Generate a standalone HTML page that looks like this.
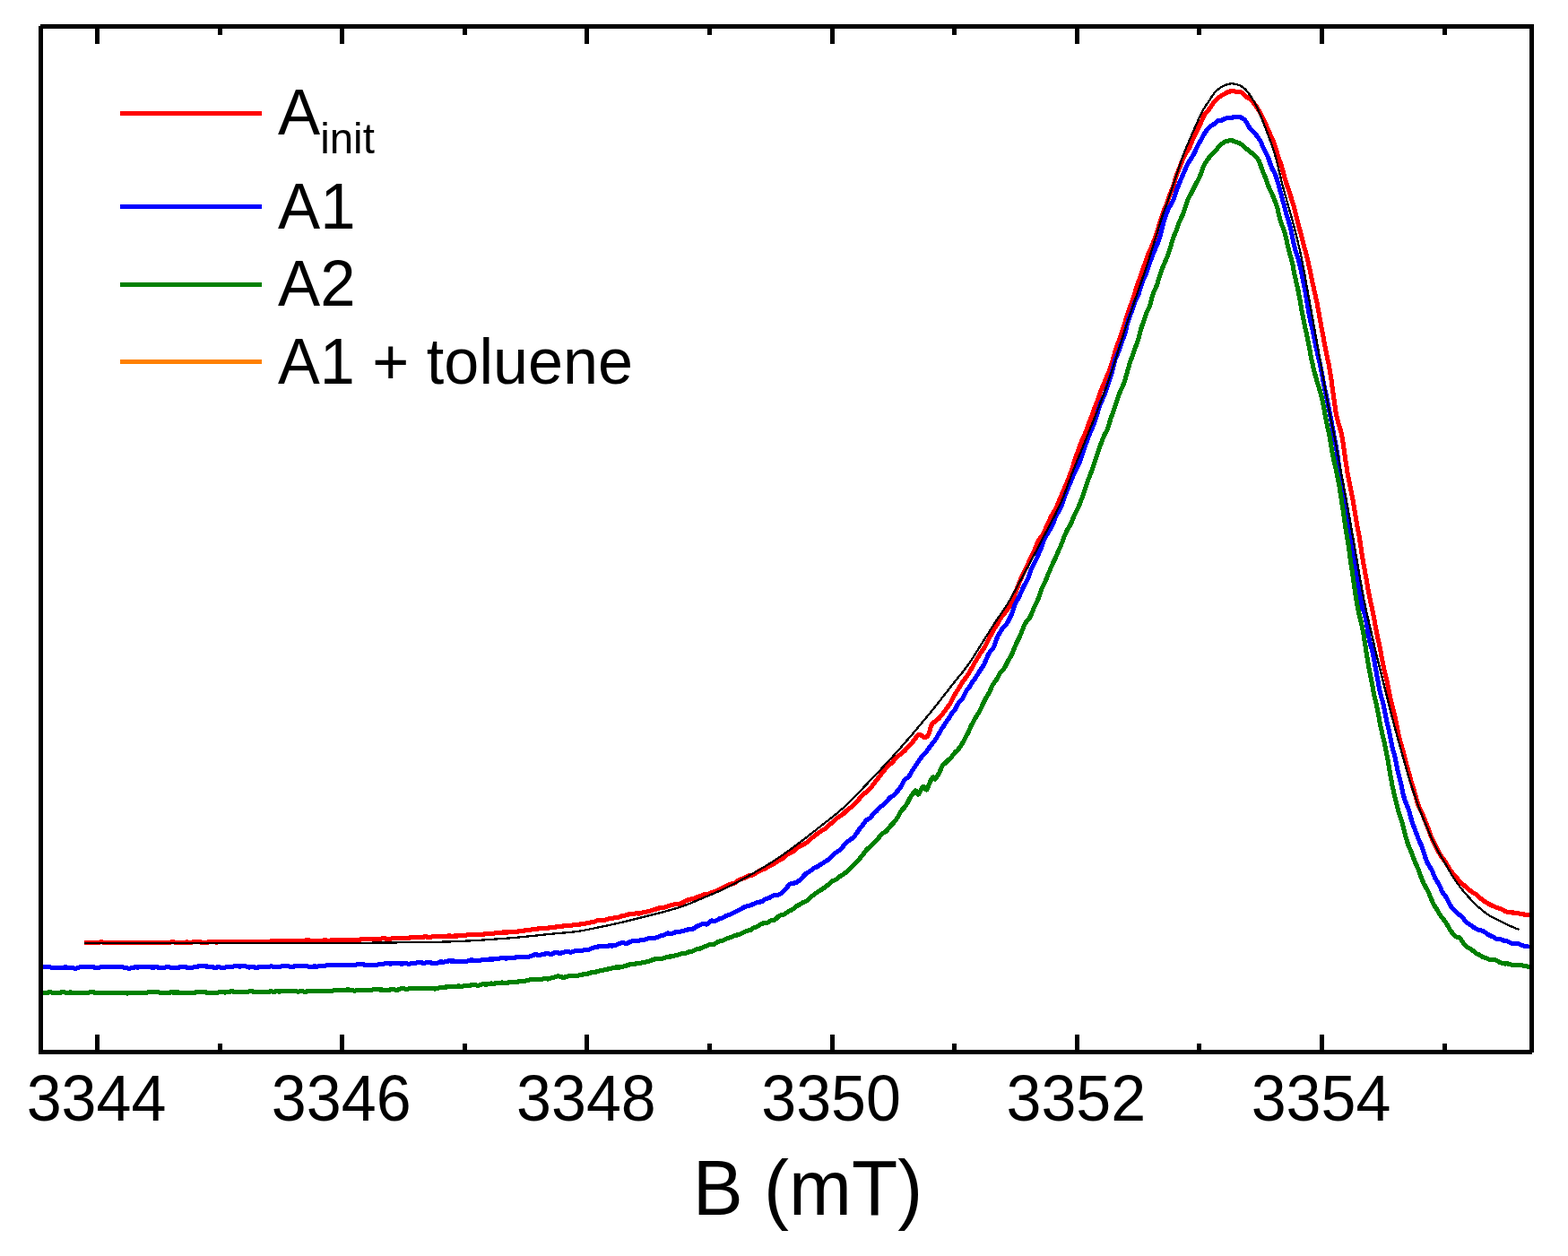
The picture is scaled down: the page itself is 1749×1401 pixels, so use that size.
<!DOCTYPE html>
<html lang="en">
<head>
<meta charset="utf-8">
<title>B (mT) spectrum</title>
<style>
html,body{margin:0;padding:0;background:#fff;}
body{width:1749px;height:1401px;overflow:hidden;}
svg{display:block;}
text{font-family:"Liberation Sans",Arial,Helvetica,sans-serif;fill:#000;}
.c{fill:none;stroke-linejoin:round;stroke-linecap:butt;}
</style>
</head>
<body>
<svg width="1749" height="1401" viewBox="0 0 1749 1401">
<rect width="1749" height="1401" fill="#fff"/>
<g shape-rendering="crispEdges">
<path class="c" stroke="#ff0000" stroke-width="5.1" d="M94.0 1051.7 L95.0 1051.7 L96.0 1051.6 L97.0 1051.5 L98.0 1051.5 L99.0 1051.6 L100.0 1051.7 L101.0 1051.8 L102.0 1051.8 L103.0 1051.8 L104.0 1051.8 L105.0 1051.8 L106.0 1051.7 L107.0 1051.7 L108.0 1051.6 L109.0 1051.4 L110.0 1051.3 L111.0 1051.1 L112.0 1050.9 L113.0 1050.9 L114.0 1050.9 L115.0 1051.1 L116.0 1051.2 L117.0 1051.3 L118.0 1051.3 L119.0 1051.3 L120.0 1051.2 L121.0 1051.2 L122.0 1051.2 L123.0 1051.2 L124.0 1051.2 L125.0 1051.2 L126.0 1051.3 L127.0 1051.4 L128.0 1051.5 L129.0 1051.6 L130.0 1051.7 L131.0 1051.7 L132.0 1051.7 L133.0 1051.6 L134.0 1051.6 L135.0 1051.6 L136.0 1051.6 L137.0 1051.6 L138.0 1051.6 L139.0 1051.7 L140.0 1051.7 L141.0 1051.8 L142.0 1051.9 L143.0 1051.9 L144.0 1051.9 L145.0 1051.8 L146.0 1051.7 L147.0 1051.7 L148.0 1051.8 L149.0 1051.8 L150.0 1051.9 L151.0 1051.9 L152.0 1051.8 L153.0 1051.7 L154.0 1051.6 L155.0 1051.4 L156.0 1051.3 L157.0 1051.3 L158.0 1051.4 L159.0 1051.5 L160.0 1051.5 L161.0 1051.5 L162.0 1051.4 L163.0 1051.3 L164.0 1051.2 L165.0 1051.2 L166.0 1051.3 L167.0 1051.5 L168.0 1051.6 L169.0 1051.6 L170.0 1051.6 L171.0 1051.6 L172.0 1051.6 L173.0 1051.6 L174.0 1051.5 L175.0 1051.5 L176.0 1051.4 L177.0 1051.3 L178.0 1051.3 L179.0 1051.3 L180.0 1051.3 L181.0 1051.5 L182.0 1051.6 L183.0 1051.7 L184.0 1051.7 L185.0 1051.7 L186.0 1051.6 L187.0 1051.6 L188.0 1051.5 L189.0 1051.3 L190.0 1051.1 L191.0 1050.9 L192.0 1050.7 L193.0 1050.7 L194.0 1050.8 L195.0 1051.1 L196.0 1051.3 L197.0 1051.4 L198.0 1051.4 L199.0 1051.4 L200.0 1051.3 L201.0 1051.3 L202.0 1051.4 L203.0 1051.4 L204.0 1051.3 L205.0 1051.3 L206.0 1051.2 L207.0 1051.1 L208.0 1051.0 L209.0 1051.0 L210.0 1051.1 L211.0 1051.2 L212.0 1051.2 L213.0 1051.2 L214.0 1051.1 L215.0 1050.9 L216.0 1050.7 L217.0 1050.6 L218.0 1050.5 L219.0 1050.6 L220.0 1050.6 L221.0 1050.7 L222.0 1050.8 L223.0 1050.9 L224.0 1051.0 L225.0 1051.1 L226.0 1051.1 L227.0 1051.2 L228.0 1051.3 L229.0 1051.3 L230.0 1051.2 L231.0 1051.1 L232.0 1051.0 L233.0 1050.9 L234.0 1050.9 L235.0 1050.8 L236.0 1050.8 L237.0 1050.7 L238.0 1050.7 L239.0 1050.8 L240.0 1050.9 L241.0 1051.0 L242.0 1051.0 L243.0 1050.9 L244.0 1050.8 L245.0 1050.7 L246.0 1050.7 L247.0 1050.6 L248.0 1050.6 L249.0 1050.5 L250.0 1050.6 L251.0 1050.6 L252.0 1050.7 L253.0 1050.7 L254.0 1050.7 L255.0 1050.7 L256.0 1050.7 L257.0 1050.6 L258.0 1050.5 L259.0 1050.4 L260.0 1050.4 L261.0 1050.5 L262.0 1050.6 L263.0 1050.6 L264.0 1050.6 L265.0 1050.5 L266.0 1050.4 L267.0 1050.4 L268.0 1050.4 L269.0 1050.4 L270.0 1050.5 L271.0 1050.6 L272.0 1050.6 L273.0 1050.5 L274.0 1050.5 L275.0 1050.5 L276.0 1050.5 L277.0 1050.6 L278.0 1050.7 L279.0 1050.7 L280.0 1050.8 L281.0 1050.7 L282.0 1050.6 L283.0 1050.5 L284.0 1050.5 L285.0 1050.6 L286.0 1050.7 L287.0 1050.8 L288.0 1050.8 L289.0 1050.8 L290.0 1050.8 L291.0 1050.8 L292.0 1050.7 L293.0 1050.6 L294.0 1050.6 L295.0 1050.7 L296.0 1050.8 L297.0 1050.9 L298.0 1050.8 L299.0 1050.6 L300.0 1050.3 L301.0 1050.1 L302.0 1050.0 L303.0 1049.9 L304.0 1049.9 L305.0 1049.8 L306.0 1049.7 L307.0 1049.7 L308.0 1049.7 L309.0 1049.8 L310.0 1049.8 L311.0 1049.7 L312.0 1049.6 L313.0 1049.5 L314.0 1049.4 L315.0 1049.5 L316.0 1049.6 L317.0 1049.7 L318.0 1049.7 L319.0 1049.7 L320.0 1049.6 L321.0 1049.5 L322.0 1049.5 L323.0 1049.5 L324.0 1049.6 L325.0 1049.8 L326.0 1049.9 L327.0 1050.0 L328.0 1050.0 L329.0 1050.0 L330.0 1049.8 L331.0 1049.7 L332.0 1049.6 L333.0 1049.5 L334.0 1049.5 L335.0 1049.6 L336.0 1049.7 L337.0 1049.7 L338.0 1049.6 L339.0 1049.5 L340.0 1049.2 L341.0 1048.9 L342.0 1048.6 L343.0 1048.5 L344.0 1048.6 L345.0 1048.8 L346.0 1049.1 L347.0 1049.2 L348.0 1049.3 L349.0 1049.3 L350.0 1049.4 L351.0 1049.5 L352.0 1049.5 L353.0 1049.5 L354.0 1049.5 L355.0 1049.5 L356.0 1049.4 L357.0 1049.3 L358.0 1049.2 L359.0 1049.2 L360.0 1049.1 L361.0 1049.0 L362.0 1049.0 L363.0 1049.0 L364.0 1049.0 L365.0 1049.2 L366.0 1049.3 L367.0 1049.3 L368.0 1049.2 L369.0 1049.0 L370.0 1048.8 L371.0 1048.7 L372.0 1048.6 L373.0 1048.6 L374.0 1048.6 L375.0 1048.6 L376.0 1048.7 L377.0 1048.8 L378.0 1048.9 L379.0 1049.0 L380.0 1048.9 L381.0 1048.8 L382.0 1048.7 L383.0 1048.6 L384.0 1048.6 L385.0 1048.8 L386.0 1048.9 L387.0 1048.9 L388.0 1048.8 L389.0 1048.7 L390.0 1048.6 L391.0 1048.5 L392.0 1048.5 L393.0 1048.5 L394.0 1048.5 L395.0 1048.5 L396.0 1048.4 L397.0 1048.3 L398.0 1048.3 L399.0 1048.3 L400.0 1048.2 L401.0 1048.1 L402.0 1048.0 L403.0 1047.9 L404.0 1047.8 L405.0 1047.8 L406.0 1047.8 L407.0 1047.7 L408.0 1047.6 L409.0 1047.5 L410.0 1047.4 L411.0 1047.4 L412.0 1047.5 L413.0 1047.6 L414.0 1047.7 L415.0 1047.7 L416.0 1047.7 L417.0 1047.6 L418.0 1047.5 L419.0 1047.4 L420.0 1047.4 L421.0 1047.4 L422.0 1047.5 L423.0 1047.5 L424.0 1047.4 L425.0 1047.2 L426.0 1047.0 L427.0 1046.8 L428.0 1046.8 L429.0 1046.9 L430.0 1047.0 L431.0 1047.2 L432.0 1047.4 L433.0 1047.5 L434.0 1047.5 L435.0 1047.4 L436.0 1047.2 L437.0 1047.0 L438.0 1046.8 L439.0 1046.7 L440.0 1046.7 L441.0 1046.7 L442.0 1046.6 L443.0 1046.5 L444.0 1046.4 L445.0 1046.3 L446.0 1046.3 L447.0 1046.3 L448.0 1046.4 L449.0 1046.3 L450.0 1046.3 L451.0 1046.3 L452.0 1046.4 L453.0 1046.4 L454.0 1046.5 L455.0 1046.4 L456.0 1046.3 L457.0 1046.0 L458.0 1045.7 L459.0 1045.5 L460.0 1045.4 L461.0 1045.4 L462.0 1045.5 L463.0 1045.5 L464.0 1045.5 L465.0 1045.4 L466.0 1045.4 L467.0 1045.6 L468.0 1045.7 L469.0 1045.7 L470.0 1045.6 L471.0 1045.3 L472.0 1045.1 L473.0 1045.0 L474.0 1044.9 L475.0 1044.9 L476.0 1045.0 L477.0 1045.2 L478.0 1045.3 L479.0 1045.4 L480.0 1045.4 L481.0 1045.2 L482.0 1045.0 L483.0 1044.8 L484.0 1044.6 L485.0 1044.4 L486.0 1044.4 L487.0 1044.4 L488.0 1044.5 L489.0 1044.5 L490.0 1044.5 L491.0 1044.4 L492.0 1044.3 L493.0 1044.3 L494.0 1044.3 L495.0 1044.3 L496.0 1044.4 L497.0 1044.3 L498.0 1044.2 L499.0 1044.1 L500.0 1044.0 L501.0 1044.0 L502.0 1044.0 L503.0 1044.1 L504.0 1044.2 L505.0 1044.2 L506.0 1044.1 L507.0 1044.0 L508.0 1044.0 L509.0 1044.0 L510.0 1044.0 L511.0 1044.0 L512.0 1043.8 L513.0 1043.6 L514.0 1043.4 L515.0 1043.2 L516.0 1043.2 L517.0 1043.2 L518.0 1043.2 L519.0 1043.2 L520.0 1043.1 L521.0 1042.9 L522.0 1042.8 L523.0 1042.7 L524.0 1042.6 L525.0 1042.5 L526.0 1042.4 L527.0 1042.3 L528.0 1042.2 L529.0 1042.2 L530.0 1042.3 L531.0 1042.2 L532.0 1042.2 L533.0 1042.1 L534.0 1042.1 L535.0 1042.2 L536.0 1042.2 L537.0 1042.3 L538.0 1042.2 L539.0 1042.2 L540.0 1042.0 L541.0 1041.9 L542.0 1041.9 L543.0 1041.8 L544.0 1041.8 L545.0 1041.7 L546.0 1041.6 L547.0 1041.5 L548.0 1041.4 L549.0 1041.4 L550.0 1041.3 L551.0 1041.1 L552.0 1040.9 L553.0 1040.7 L554.0 1040.6 L555.0 1040.5 L556.0 1040.5 L557.0 1040.4 L558.0 1040.4 L559.0 1040.2 L560.0 1040.1 L561.0 1040.0 L562.0 1040.0 L563.0 1040.0 L564.0 1040.0 L565.0 1040.0 L566.0 1040.0 L567.0 1039.8 L568.0 1039.7 L569.0 1039.5 L570.0 1039.4 L571.0 1039.5 L572.0 1039.5 L573.0 1039.6 L574.0 1039.6 L575.0 1039.5 L576.0 1039.4 L577.0 1039.3 L578.0 1039.0 L579.0 1038.7 L580.0 1038.4 L581.0 1038.2 L582.0 1038.2 L583.0 1038.2 L584.0 1038.1 L585.0 1038.0 L586.0 1037.8 L587.0 1037.7 L588.0 1037.5 L589.0 1037.4 L590.0 1037.3 L591.0 1037.2 L592.0 1037.1 L593.0 1036.9 L594.0 1036.8 L595.0 1036.7 L596.0 1036.7 L597.0 1036.7 L598.0 1036.6 L599.0 1036.3 L600.0 1036.0 L601.0 1035.8 L602.0 1035.7 L603.0 1035.7 L604.0 1035.6 L605.0 1035.6 L606.0 1035.5 L607.0 1035.6 L608.0 1035.7 L609.0 1035.7 L610.0 1035.6 L611.0 1035.3 L612.0 1035.0 L613.0 1034.7 L614.0 1034.4 L615.0 1034.3 L616.0 1034.2 L617.0 1034.2 L618.0 1034.2 L619.0 1034.1 L620.0 1034.0 L621.0 1033.8 L622.0 1033.6 L623.0 1033.5 L624.0 1033.4 L625.0 1033.3 L626.0 1033.2 L627.0 1033.1 L628.0 1033.0 L629.0 1032.8 L630.0 1032.6 L631.0 1032.5 L632.0 1032.4 L633.0 1032.4 L634.0 1032.4 L635.0 1032.4 L636.0 1032.3 L637.0 1032.2 L638.0 1032.1 L639.0 1031.9 L640.0 1031.8 L641.0 1031.7 L642.0 1031.6 L643.0 1031.5 L644.0 1031.4 L645.0 1031.3 L646.0 1031.2 L647.0 1031.0 L648.0 1030.8 L649.0 1030.7 L650.0 1030.5 L651.0 1030.4 L652.0 1030.3 L653.0 1030.1 L654.0 1029.9 L655.0 1029.7 L656.0 1029.5 L657.0 1029.3 L658.0 1029.1 L659.0 1028.9 L660.0 1028.8 L661.0 1028.7 L662.0 1028.5 L663.0 1028.1 L664.0 1027.7 L665.0 1027.3 L666.0 1026.9 L667.0 1026.6 L668.0 1026.3 L669.0 1026.1 L670.0 1026.1 L671.0 1026.1 L672.0 1026.2 L673.0 1026.3 L674.0 1026.3 L675.0 1026.2 L676.0 1025.9 L677.0 1025.5 L678.0 1025.1 L679.0 1024.7 L680.0 1024.5 L681.0 1024.5 L682.0 1024.4 L683.0 1024.3 L684.0 1024.1 L685.0 1023.9 L686.0 1023.8 L687.0 1023.7 L688.0 1023.6 L689.0 1023.4 L690.0 1023.1 L691.0 1022.7 L692.0 1022.3 L693.0 1022.0 L694.0 1021.7 L695.0 1021.5 L696.0 1021.4 L697.0 1021.1 L698.0 1020.8 L699.0 1020.5 L700.0 1020.2 L701.0 1020.0 L702.0 1019.9 L703.0 1019.9 L704.0 1019.9 L705.0 1019.8 L706.0 1019.6 L707.0 1019.4 L708.0 1019.1 L709.0 1018.9 L710.0 1018.8 L711.0 1018.9 L712.0 1019.0 L713.0 1019.0 L714.0 1018.8 L715.0 1018.5 L716.0 1018.1 L717.0 1017.8 L718.0 1017.6 L719.0 1017.4 L720.0 1017.3 L721.0 1017.1 L722.0 1016.9 L723.0 1016.6 L724.0 1016.4 L725.0 1016.1 L726.0 1015.8 L727.0 1015.5 L728.0 1015.2 L729.0 1014.9 L730.0 1014.6 L731.0 1014.4 L732.0 1014.0 L733.0 1013.6 L734.0 1013.3 L735.0 1013.0 L736.0 1012.8 L737.0 1012.7 L738.0 1012.6 L739.0 1012.5 L740.0 1012.4 L741.0 1012.1 L742.0 1011.8 L743.0 1011.5 L744.0 1011.1 L745.0 1010.7 L746.0 1010.4 L747.0 1010.1 L748.0 1009.9 L749.0 1009.7 L750.0 1009.4 L751.0 1009.2 L752.0 1008.9 L753.0 1008.7 L754.0 1008.5 L755.0 1008.4 L756.0 1008.3 L757.0 1008.3 L758.0 1008.2 L759.0 1007.9 L760.0 1007.5 L761.0 1007.0 L762.0 1006.5 L763.0 1005.9 L764.0 1005.4 L765.0 1004.9 L766.0 1004.5 L767.0 1004.0 L768.0 1003.6 L769.0 1003.3 L770.0 1003.1 L771.0 1002.9 L772.0 1002.7 L773.0 1002.5 L774.0 1002.2 L775.0 1001.8 L776.0 1001.3 L777.0 1000.9 L778.0 1000.5 L779.0 1000.2 L780.0 999.9 L781.0 999.5 L782.0 999.1 L783.0 998.7 L784.0 998.3 L785.0 997.9 L786.0 997.6 L787.0 997.4 L788.0 997.3 L789.0 997.3 L790.0 997.1 L791.0 996.8 L792.0 996.4 L793.0 996.0 L794.0 995.5 L795.0 995.1 L796.0 994.7 L797.0 994.4 L798.0 994.1 L799.0 993.8 L800.0 993.5 L801.0 993.1 L802.0 992.5 L803.0 991.9 L804.0 991.3 L805.0 990.8 L806.0 990.4 L807.0 990.0 L808.0 989.5 L809.0 989.0 L810.0 988.4 L811.0 987.9 L812.0 987.5 L813.0 987.0 L814.0 986.6 L815.0 986.2 L816.0 986.0 L817.0 985.8 L818.0 985.7 L819.0 985.4 L820.0 984.8 L821.0 984.0 L822.0 983.1 L823.0 982.4 L824.0 981.8 L825.0 981.4 L826.0 980.9 L827.0 980.5 L828.0 980.1 L829.0 979.7 L830.0 979.4 L831.0 979.0 L832.0 978.5 L833.0 977.9 L834.0 977.4 L835.0 977.0 L836.0 976.7 L837.0 976.7 L838.0 976.6 L839.0 976.4 L840.0 975.9 L841.0 975.3 L842.0 974.6 L843.0 973.9 L844.0 973.3 L845.0 972.6 L846.0 972.0 L847.0 971.5 L848.0 970.9 L849.0 970.5 L850.0 970.1 L851.0 969.8 L852.0 969.4 L853.0 969.0 L854.0 968.5 L855.0 967.9 L856.0 967.3 L857.0 966.7 L858.0 966.3 L859.0 965.8 L860.0 965.4 L861.0 964.9 L862.0 964.3 L863.0 963.6 L864.0 962.9 L865.0 962.2 L866.0 961.5 L867.0 960.8 L868.0 960.2 L869.0 959.7 L870.0 959.3 L871.0 958.8 L872.0 958.2 L873.0 957.5 L874.0 956.7 L875.0 955.9 L876.0 955.1 L877.0 954.2 L878.0 953.4 L879.0 952.5 L880.0 951.9 L881.0 951.4 L882.0 951.0 L883.0 950.6 L884.0 950.2 L885.0 949.5 L886.0 948.6 L887.0 947.6 L888.0 946.7 L889.0 945.9 L890.0 945.3 L891.0 944.6 L892.0 944.0 L893.0 943.5 L894.0 943.0 L895.0 942.5 L896.0 942.0 L897.0 941.5 L898.0 940.9 L899.0 940.3 L900.0 939.6 L901.0 938.8 L902.0 937.8 L903.0 936.9 L904.0 936.0 L905.0 935.1 L906.0 934.4 L907.0 933.8 L908.0 933.1 L909.0 932.3 L910.0 931.4 L911.0 930.5 L912.0 929.6 L913.0 928.9 L914.0 928.2 L915.0 927.6 L916.0 927.0 L917.0 926.3 L918.0 925.7 L919.0 925.2 L920.0 924.6 L921.0 924.0 L922.0 923.2 L923.0 922.2 L924.0 921.2 L925.0 920.2 L926.0 919.4 L927.0 918.5 L928.0 917.6 L929.0 916.7 L930.0 915.8 L931.0 914.8 L932.0 913.9 L933.0 913.0 L934.0 912.3 L935.0 911.7 L936.0 911.0 L937.0 910.3 L938.0 909.6 L939.0 908.9 L940.0 908.2 L941.0 907.5 L942.0 906.6 L943.0 905.6 L944.0 904.5 L945.0 903.6 L946.0 902.7 L947.0 902.0 L948.0 901.3 L949.0 900.6 L950.0 899.7 L951.0 898.7 L952.0 897.7 L953.0 896.8 L954.0 896.0 L955.0 895.1 L956.0 894.0 L957.0 892.9 L958.0 891.7 L959.0 890.5 L960.0 889.3 L961.0 888.1 L962.0 887.0 L963.0 886.0 L964.0 885.2 L965.0 884.5 L966.0 883.6 L967.0 882.7 L968.0 881.7 L969.0 880.7 L970.0 879.8 L971.0 878.9 L972.0 877.8 L973.0 876.5 L974.0 875.2 L975.0 873.9 L976.0 872.5 L977.0 871.2 L978.0 870.0 L979.0 868.7 L980.0 867.4 L981.0 866.1 L982.0 864.8 L983.0 863.4 L984.0 862.1 L985.0 860.9 L986.0 859.7 L987.0 858.5 L988.0 857.3 L989.0 856.1 L990.0 854.9 L991.0 853.8 L992.0 852.9 L993.0 852.2 L994.0 851.5 L995.0 850.7 L996.0 849.7 L997.0 848.5 L998.0 847.2 L999.0 846.1 L1000.0 845.0 L1001.0 844.1 L1002.0 843.2 L1003.0 842.4 L1004.0 841.6 L1005.0 840.9 L1006.0 840.1 L1007.0 839.2 L1008.0 838.4 L1009.0 837.5 L1010.0 836.4 L1011.0 835.3 L1012.0 834.0 L1013.0 832.9 L1014.0 831.9 L1015.0 831.0 L1016.0 830.0 L1017.0 828.8 L1018.0 827.6 L1019.0 826.4 L1020.0 825.2 L1021.0 823.9 L1022.0 822.1 L1023.0 820.9 L1024.0 820.1 L1025.0 819.4 L1026.0 819.2 L1027.0 819.7 L1028.0 820.4 L1029.0 821.4 L1030.0 822.1 L1031.0 822.2 L1032.0 822.2 L1033.0 822.0 L1034.0 821.6 L1035.0 820.6 L1036.0 818.6 L1037.0 815.3 L1038.0 811.9 L1039.0 808.9 L1040.0 807.3 L1041.0 806.3 L1042.0 805.5 L1043.0 804.7 L1044.0 803.9 L1045.0 803.1 L1046.0 802.3 L1047.0 801.5 L1048.0 800.5 L1049.0 799.3 L1050.0 798.1 L1051.0 796.8 L1052.0 795.5 L1053.0 794.3 L1054.0 793.0 L1055.0 791.5 L1056.0 790.0 L1057.0 788.6 L1058.0 787.3 L1059.0 785.9 L1060.0 784.4 L1061.0 782.6 L1062.0 780.7 L1063.0 778.7 L1064.0 776.8 L1065.0 774.9 L1066.0 773.1 L1067.0 771.4 L1068.0 769.9 L1069.0 768.5 L1070.0 766.9 L1071.0 765.2 L1072.0 763.5 L1073.0 761.8 L1074.0 760.2 L1075.0 758.8 L1076.0 757.6 L1077.0 756.5 L1078.0 755.2 L1079.0 753.7 L1080.0 752.1 L1081.0 750.4 L1082.0 748.7 L1083.0 747.0 L1084.0 745.2 L1085.0 743.4 L1086.0 741.5 L1087.0 739.7 L1088.0 738.0 L1089.0 736.4 L1090.0 734.7 L1091.0 733.1 L1092.0 731.4 L1093.0 729.7 L1094.0 728.1 L1095.0 726.7 L1096.0 725.3 L1097.0 723.9 L1098.0 722.3 L1099.0 720.5 L1100.0 718.6 L1101.0 716.5 L1102.0 714.6 L1103.0 712.7 L1104.0 710.8 L1105.0 708.9 L1106.0 706.9 L1107.0 705.0 L1108.0 703.2 L1109.0 701.6 L1110.0 700.1 L1111.0 698.6 L1112.0 697.1 L1113.0 695.5 L1114.0 693.6 L1115.0 691.7 L1116.0 689.9 L1117.0 688.3 L1118.0 687.0 L1119.0 685.9 L1120.0 684.8 L1121.0 683.6 L1122.0 682.2 L1123.0 680.7 L1124.0 679.2 L1125.0 677.7 L1126.0 676.2 L1127.0 674.6 L1128.0 672.6 L1129.0 670.2 L1130.0 667.6 L1131.0 665.0 L1132.0 662.5 L1133.0 660.1 L1134.0 657.7 L1135.0 655.1 L1136.0 652.4 L1137.0 649.8 L1138.0 647.3 L1139.0 645.0 L1140.0 642.6 L1141.0 640.4 L1142.0 638.3 L1143.0 636.5 L1144.0 634.8 L1145.0 632.9 L1146.0 630.7 L1147.0 628.3 L1148.0 625.8 L1149.0 623.6 L1150.0 621.6 L1151.0 619.6 L1152.0 617.7 L1153.0 615.6 L1154.0 613.4 L1155.0 610.9 L1156.0 608.4 L1157.0 606.0 L1158.0 603.9 L1159.0 602.2 L1160.0 600.7 L1161.0 599.4 L1162.0 598.0 L1163.0 596.4 L1164.0 594.5 L1165.0 592.4 L1166.0 590.2 L1167.0 588.0 L1168.0 585.7 L1169.0 583.5 L1170.0 581.3 L1171.0 579.3 L1172.0 577.2 L1173.0 575.2 L1174.0 573.4 L1175.0 571.7 L1176.0 570.0 L1177.0 568.3 L1178.0 566.4 L1179.0 564.2 L1180.0 561.8 L1181.0 559.4 L1182.0 557.1 L1183.0 554.8 L1184.0 552.5 L1185.0 550.1 L1186.0 547.7 L1187.0 545.3 L1188.0 542.9 L1189.0 540.7 L1190.0 538.4 L1191.0 536.0 L1192.0 533.4 L1193.0 530.7 L1194.0 528.0 L1195.0 525.2 L1196.0 522.3 L1197.0 519.1 L1198.0 515.9 L1199.0 512.7 L1200.0 509.9 L1201.0 507.1 L1202.0 504.3 L1203.0 501.5 L1204.0 498.7 L1205.0 495.9 L1206.0 493.4 L1207.0 491.1 L1208.0 488.9 L1209.0 486.8 L1210.0 484.4 L1211.0 481.9 L1212.0 479.2 L1213.0 476.5 L1214.0 473.7 L1215.0 471.1 L1216.0 468.6 L1217.0 466.0 L1218.0 463.4 L1219.0 460.6 L1220.0 457.8 L1221.0 455.1 L1222.0 452.5 L1223.0 449.9 L1224.0 447.3 L1225.0 444.4 L1226.0 441.3 L1227.0 438.3 L1228.0 435.6 L1229.0 433.2 L1230.0 431.1 L1231.0 428.9 L1232.0 426.5 L1233.0 423.9 L1234.0 421.4 L1235.0 419.0 L1236.0 416.6 L1237.0 414.3 L1238.0 411.8 L1239.0 409.1 L1240.0 406.0 L1241.0 402.5 L1242.0 398.9 L1243.0 395.3 L1244.0 391.8 L1245.0 388.5 L1246.0 385.5 L1247.0 382.7 L1248.0 380.2 L1249.0 377.6 L1250.0 374.8 L1251.0 371.8 L1252.0 368.7 L1253.0 365.7 L1254.0 362.6 L1255.0 359.4 L1256.0 356.0 L1257.0 352.6 L1258.0 349.4 L1259.0 346.5 L1260.0 343.8 L1261.0 341.1 L1262.0 338.2 L1263.0 335.4 L1264.0 332.5 L1265.0 329.4 L1266.0 326.2 L1267.0 322.9 L1268.0 319.8 L1269.0 316.9 L1270.0 314.1 L1271.0 311.3 L1272.0 308.5 L1273.0 305.7 L1274.0 302.9 L1275.0 300.0 L1276.0 297.1 L1277.0 294.2 L1278.0 291.1 L1279.0 288.2 L1280.0 285.4 L1281.0 282.9 L1282.0 280.6 L1283.0 278.4 L1284.0 276.2 L1285.0 273.8 L1286.0 271.4 L1287.0 269.0 L1288.0 266.5 L1289.0 263.7 L1290.0 260.7 L1291.0 257.5 L1292.0 254.2 L1293.0 250.9 L1294.0 247.7 L1295.0 244.5 L1296.0 241.4 L1297.0 238.4 L1298.0 235.6 L1299.0 233.1 L1300.0 230.8 L1301.0 228.4 L1302.0 225.8 L1303.0 222.9 L1304.0 219.9 L1305.0 217.1 L1306.0 214.5 L1307.0 212.1 L1308.0 209.5 L1309.0 206.6 L1310.0 203.3 L1311.0 199.9 L1312.0 196.6 L1313.0 193.8 L1314.0 191.2 L1315.0 188.8 L1316.0 186.3 L1317.0 183.7 L1318.0 181.1 L1319.0 178.6 L1320.0 176.2 L1321.0 174.0 L1322.0 172.1 L1323.0 170.5 L1324.0 169.1 L1325.0 167.6 L1326.0 166.0 L1327.0 164.0 L1328.0 161.6 L1329.0 159.1 L1330.0 156.6 L1331.0 154.2 L1332.0 152.1 L1333.0 150.1 L1334.0 148.1 L1335.0 146.1 L1336.0 144.1 L1337.0 142.1 L1338.0 140.1 L1339.0 138.0 L1340.0 135.7 L1341.0 133.4 L1342.0 131.0 L1343.0 128.9 L1344.0 127.2 L1345.0 125.9 L1346.0 124.8 L1347.0 123.8 L1348.0 122.6 L1349.0 121.3 L1350.0 120.0 L1351.0 118.5 L1352.0 117.0 L1353.0 115.5 L1354.0 114.2 L1355.0 113.0 L1356.0 111.9 L1357.0 110.9 L1358.0 109.9 L1359.0 109.0 L1360.0 108.3 L1361.0 107.6 L1362.0 107.0 L1363.0 106.4 L1364.0 105.9 L1365.0 105.3 L1366.0 104.7 L1367.0 104.0 L1368.0 103.4 L1369.0 103.0 L1370.0 102.6 L1371.0 102.3 L1372.0 102.0 L1373.0 101.7 L1374.0 101.5 L1375.0 101.5 L1376.0 101.6 L1377.0 101.8 L1378.0 102.1 L1379.0 102.3 L1380.0 102.5 L1381.0 102.5 L1382.0 102.5 L1383.0 102.6 L1384.0 102.9 L1385.0 103.4 L1386.0 104.2 L1387.0 105.1 L1388.0 106.1 L1389.0 107.0 L1390.0 107.8 L1391.0 108.5 L1392.0 109.1 L1393.0 109.7 L1394.0 110.4 L1395.0 111.3 L1396.0 112.3 L1397.0 113.3 L1398.0 114.4 L1399.0 115.5 L1400.0 116.7 L1401.0 118.1 L1402.0 119.7 L1403.0 121.3 L1404.0 123.0 L1405.0 124.7 L1406.0 126.5 L1407.0 128.5 L1408.0 130.6 L1409.0 132.7 L1410.0 134.7 L1411.0 136.8 L1412.0 139.1 L1413.0 141.5 L1414.0 143.9 L1415.0 146.0 L1416.0 148.1 L1417.0 150.2 L1418.0 152.5 L1419.0 154.8 L1420.0 157.0 L1421.0 159.3 L1422.0 162.1 L1423.0 165.4 L1424.0 168.8 L1425.0 172.2 L1426.0 175.2 L1427.0 178.1 L1428.0 181.0 L1429.0 184.0 L1430.0 187.4 L1431.0 191.0 L1432.0 194.8 L1433.0 198.5 L1434.0 201.9 L1435.0 204.9 L1436.0 207.9 L1437.0 210.8 L1438.0 213.8 L1439.0 216.8 L1440.0 219.9 L1441.0 223.1 L1442.0 226.3 L1443.0 229.7 L1444.0 233.4 L1445.0 237.4 L1446.0 241.7 L1447.0 245.9 L1448.0 249.7 L1449.0 253.3 L1450.0 256.9 L1451.0 260.7 L1452.0 264.7 L1453.0 268.7 L1454.0 272.5 L1455.0 276.0 L1456.0 279.6 L1457.0 283.5 L1458.0 287.6 L1459.0 291.9 L1460.0 296.3 L1461.0 300.9 L1462.0 305.7 L1463.0 310.5 L1464.0 315.2 L1465.0 319.7 L1466.0 324.0 L1467.0 328.5 L1468.0 333.1 L1469.0 337.9 L1470.0 343.0 L1471.0 348.3 L1472.0 354.0 L1473.0 359.8 L1474.0 365.3 L1475.0 370.6 L1476.0 375.8 L1477.0 381.0 L1478.0 386.3 L1479.0 391.4 L1480.0 396.3 L1481.0 401.0 L1482.0 405.8 L1483.0 411.1 L1484.0 417.0 L1485.0 423.8 L1486.0 431.1 L1487.0 438.7 L1488.0 445.9 L1489.0 452.8 L1490.0 459.2 L1491.0 464.6 L1492.0 468.9 L1493.0 472.4 L1494.0 475.6 L1495.0 478.9 L1496.0 482.9 L1497.0 487.8 L1498.0 493.6 L1499.0 500.1 L1500.0 507.0 L1501.0 514.0 L1502.0 520.8 L1503.0 527.0 L1504.0 532.4 L1505.0 537.4 L1506.0 542.4 L1507.0 547.4 L1508.0 552.6 L1509.0 557.9 L1510.0 563.5 L1511.0 569.5 L1512.0 575.7 L1513.0 581.7 L1514.0 587.2 L1515.0 592.4 L1516.0 597.8 L1517.0 603.9 L1518.0 610.5 L1519.0 617.4 L1520.0 623.8 L1521.0 629.6 L1522.0 634.9 L1523.0 640.3 L1524.0 645.9 L1525.0 651.7 L1526.0 657.3 L1527.0 662.6 L1528.0 667.5 L1529.0 672.0 L1530.0 676.6 L1531.0 681.3 L1532.0 686.4 L1533.0 691.7 L1534.0 697.1 L1535.0 702.4 L1536.0 707.4 L1537.0 712.1 L1538.0 716.7 L1539.0 721.6 L1540.0 726.9 L1541.0 732.4 L1542.0 737.8 L1543.0 742.7 L1544.0 747.2 L1545.0 751.4 L1546.0 755.5 L1547.0 759.8 L1548.0 764.4 L1549.0 769.3 L1550.0 774.4 L1551.0 779.1 L1552.0 783.5 L1553.0 787.5 L1554.0 791.5 L1555.0 795.6 L1556.0 799.9 L1557.0 804.7 L1558.0 809.7 L1559.0 814.7 L1560.0 819.6 L1561.0 823.9 L1562.0 827.7 L1563.0 831.0 L1564.0 834.1 L1565.0 837.5 L1566.0 841.4 L1567.0 845.4 L1568.0 849.5 L1569.0 853.2 L1570.0 856.8 L1571.0 860.2 L1572.0 863.7 L1573.0 867.4 L1574.0 871.1 L1575.0 874.6 L1576.0 877.9 L1577.0 881.0 L1578.0 884.3 L1579.0 887.8 L1580.0 891.4 L1581.0 895.0 L1582.0 898.0 L1583.0 900.5 L1584.0 902.6 L1585.0 904.5 L1586.0 906.5 L1587.0 908.7 L1588.0 911.2 L1589.0 913.9 L1590.0 916.6 L1591.0 919.1 L1592.0 921.6 L1593.0 924.1 L1594.0 926.8 L1595.0 929.5 L1596.0 932.2 L1597.0 934.7 L1598.0 936.9 L1599.0 939.0 L1600.0 940.9 L1601.0 942.9 L1602.0 944.9 L1603.0 946.9 L1604.0 948.9 L1605.0 950.8 L1606.0 952.7 L1607.0 954.3 L1608.0 955.8 L1609.0 957.1 L1610.0 958.3 L1611.0 959.6 L1612.0 961.1 L1613.0 962.6 L1614.0 964.3 L1615.0 966.0 L1616.0 967.7 L1617.0 969.4 L1618.0 971.0 L1619.0 972.4 L1620.0 973.6 L1621.0 974.7 L1622.0 975.7 L1623.0 976.8 L1624.0 978.0 L1625.0 979.2 L1626.0 980.5 L1627.0 981.7 L1628.0 982.8 L1629.0 983.8 L1630.0 984.8 L1631.0 985.7 L1632.0 986.6 L1633.0 987.6 L1634.0 988.5 L1635.0 989.4 L1636.0 990.2 L1637.0 991.0 L1638.0 991.9 L1639.0 992.7 L1640.0 993.5 L1641.0 994.3 L1642.0 995.0 L1643.0 995.6 L1644.0 996.2 L1645.0 996.7 L1646.0 997.3 L1647.0 998.1 L1648.0 999.0 L1649.0 999.9 L1650.0 1000.8 L1651.0 1001.6 L1652.0 1002.5 L1653.0 1003.3 L1654.0 1004.2 L1655.0 1004.9 L1656.0 1005.5 L1657.0 1006.0 L1658.0 1006.7 L1659.0 1007.4 L1660.0 1008.0 L1661.0 1008.5 L1662.0 1009.0 L1663.0 1009.5 L1664.0 1010.0 L1665.0 1010.5 L1666.0 1010.9 L1667.0 1011.3 L1668.0 1011.7 L1669.0 1012.2 L1670.0 1012.6 L1671.0 1012.9 L1672.0 1013.1 L1673.0 1013.4 L1674.0 1013.7 L1675.0 1014.2 L1676.0 1014.7 L1677.0 1015.4 L1678.0 1015.9 L1679.0 1016.5 L1680.0 1016.9 L1681.0 1017.3 L1682.0 1017.5 L1683.0 1017.7 L1684.0 1017.8 L1685.0 1017.9 L1686.0 1017.9 L1687.0 1018.0 L1688.0 1018.0 L1689.0 1018.1 L1690.0 1018.2 L1691.0 1018.3 L1692.0 1018.5 L1693.0 1018.7 L1694.0 1018.9 L1695.0 1019.1 L1696.0 1019.4 L1697.0 1019.6 L1698.0 1019.7 L1699.0 1019.9 L1700.0 1020.0 L1701.0 1020.2 L1702.0 1020.4 L1703.0 1020.5 L1704.0 1020.6 L1705.0 1020.7 L1706.0 1020.7"/>
<path class="c" stroke="#0000ff" stroke-width="5.1" d="M46.0 1079.2 L47.0 1079.0 L48.0 1078.8 L49.0 1078.5 L50.0 1078.2 L51.0 1078.1 L52.0 1078.1 L53.0 1078.3 L54.0 1078.5 L55.0 1078.7 L56.0 1078.9 L57.0 1079.1 L58.0 1079.3 L59.0 1079.4 L60.0 1079.6 L61.0 1079.6 L62.0 1079.5 L63.0 1079.3 L64.0 1079.2 L65.0 1079.2 L66.0 1079.2 L67.0 1079.3 L68.0 1079.3 L69.0 1079.3 L70.0 1079.3 L71.0 1079.2 L72.0 1079.0 L73.0 1078.9 L74.0 1079.0 L75.0 1079.2 L76.0 1079.3 L77.0 1079.3 L78.0 1079.2 L79.0 1079.3 L80.0 1079.4 L81.0 1079.7 L82.0 1080.0 L83.0 1080.2 L84.0 1080.2 L85.0 1080.1 L86.0 1079.8 L87.0 1079.4 L88.0 1079.1 L89.0 1078.9 L90.0 1078.7 L91.0 1078.7 L92.0 1078.7 L93.0 1078.7 L94.0 1078.8 L95.0 1078.9 L96.0 1078.9 L97.0 1078.9 L98.0 1078.8 L99.0 1078.7 L100.0 1078.8 L101.0 1078.8 L102.0 1078.9 L103.0 1078.9 L104.0 1078.9 L105.0 1079.0 L106.0 1079.2 L107.0 1079.4 L108.0 1079.6 L109.0 1079.6 L110.0 1079.5 L111.0 1079.2 L112.0 1078.8 L113.0 1078.4 L114.0 1078.1 L115.0 1078.1 L116.0 1078.2 L117.0 1078.3 L118.0 1078.4 L119.0 1078.4 L120.0 1078.3 L121.0 1078.3 L122.0 1078.2 L123.0 1078.2 L124.0 1078.1 L125.0 1078.1 L126.0 1078.2 L127.0 1078.4 L128.0 1078.7 L129.0 1078.9 L130.0 1078.9 L131.0 1078.7 L132.0 1078.6 L133.0 1078.5 L134.0 1078.5 L135.0 1078.6 L136.0 1078.8 L137.0 1079.0 L138.0 1079.2 L139.0 1079.4 L140.0 1079.6 L141.0 1079.8 L142.0 1080.0 L143.0 1080.1 L144.0 1080.1 L145.0 1080.1 L146.0 1079.9 L147.0 1079.7 L148.0 1079.5 L149.0 1079.2 L150.0 1079.0 L151.0 1078.9 L152.0 1078.9 L153.0 1079.0 L154.0 1079.0 L155.0 1078.9 L156.0 1078.7 L157.0 1078.6 L158.0 1078.6 L159.0 1078.6 L160.0 1078.5 L161.0 1078.4 L162.0 1078.4 L163.0 1078.5 L164.0 1078.6 L165.0 1078.7 L166.0 1078.8 L167.0 1078.9 L168.0 1078.9 L169.0 1079.0 L170.0 1079.0 L171.0 1079.1 L172.0 1079.0 L173.0 1078.9 L174.0 1078.8 L175.0 1078.9 L176.0 1079.0 L177.0 1079.2 L178.0 1079.2 L179.0 1079.2 L180.0 1079.2 L181.0 1079.4 L182.0 1079.5 L183.0 1079.5 L184.0 1079.3 L185.0 1078.9 L186.0 1078.6 L187.0 1078.4 L188.0 1078.5 L189.0 1078.8 L190.0 1079.2 L191.0 1079.4 L192.0 1079.5 L193.0 1079.6 L194.0 1079.6 L195.0 1079.5 L196.0 1079.4 L197.0 1079.3 L198.0 1079.2 L199.0 1079.1 L200.0 1079.0 L201.0 1078.9 L202.0 1078.8 L203.0 1078.7 L204.0 1078.6 L205.0 1078.5 L206.0 1078.6 L207.0 1078.9 L208.0 1079.0 L209.0 1079.1 L210.0 1079.1 L211.0 1079.1 L212.0 1079.1 L213.0 1079.2 L214.0 1079.2 L215.0 1079.1 L216.0 1078.8 L217.0 1078.6 L218.0 1078.3 L219.0 1078.2 L220.0 1078.1 L221.0 1078.0 L222.0 1078.0 L223.0 1077.8 L224.0 1077.7 L225.0 1077.6 L226.0 1077.7 L227.0 1077.8 L228.0 1077.9 L229.0 1077.9 L230.0 1078.0 L231.0 1078.0 L232.0 1078.2 L233.0 1078.3 L234.0 1078.5 L235.0 1078.6 L236.0 1078.7 L237.0 1078.8 L238.0 1079.0 L239.0 1079.1 L240.0 1079.1 L241.0 1079.1 L242.0 1079.0 L243.0 1078.9 L244.0 1078.9 L245.0 1078.9 L246.0 1079.1 L247.0 1079.3 L248.0 1079.4 L249.0 1079.5 L250.0 1079.4 L251.0 1079.2 L252.0 1078.9 L253.0 1078.8 L254.0 1078.8 L255.0 1078.8 L256.0 1078.7 L257.0 1078.6 L258.0 1078.4 L259.0 1078.3 L260.0 1078.1 L261.0 1077.9 L262.0 1077.8 L263.0 1077.7 L264.0 1077.7 L265.0 1077.8 L266.0 1077.9 L267.0 1078.0 L268.0 1078.0 L269.0 1078.0 L270.0 1077.8 L271.0 1077.7 L272.0 1077.6 L273.0 1077.6 L274.0 1077.8 L275.0 1078.2 L276.0 1078.5 L277.0 1078.9 L278.0 1079.0 L279.0 1078.9 L280.0 1078.8 L281.0 1078.7 L282.0 1078.7 L283.0 1078.8 L284.0 1079.0 L285.0 1079.1 L286.0 1079.1 L287.0 1079.1 L288.0 1079.0 L289.0 1078.9 L290.0 1078.8 L291.0 1078.7 L292.0 1078.7 L293.0 1078.7 L294.0 1078.8 L295.0 1078.8 L296.0 1078.7 L297.0 1078.7 L298.0 1078.6 L299.0 1078.5 L300.0 1078.3 L301.0 1078.1 L302.0 1077.9 L303.0 1077.9 L304.0 1078.2 L305.0 1078.4 L306.0 1078.5 L307.0 1078.5 L308.0 1078.4 L309.0 1078.4 L310.0 1078.5 L311.0 1078.5 L312.0 1078.3 L313.0 1078.1 L314.0 1077.8 L315.0 1077.5 L316.0 1077.3 L317.0 1077.2 L318.0 1077.2 L319.0 1077.3 L320.0 1077.5 L321.0 1077.7 L322.0 1077.9 L323.0 1078.1 L324.0 1078.3 L325.0 1078.5 L326.0 1078.4 L327.0 1078.2 L328.0 1078.0 L329.0 1077.9 L330.0 1077.8 L331.0 1077.8 L332.0 1077.8 L333.0 1077.9 L334.0 1077.8 L335.0 1077.6 L336.0 1077.4 L337.0 1077.3 L338.0 1077.2 L339.0 1077.1 L340.0 1077.1 L341.0 1077.3 L342.0 1077.5 L343.0 1077.9 L344.0 1078.2 L345.0 1078.4 L346.0 1078.5 L347.0 1078.4 L348.0 1078.3 L349.0 1078.2 L350.0 1078.0 L351.0 1078.0 L352.0 1078.0 L353.0 1078.1 L354.0 1078.1 L355.0 1077.9 L356.0 1077.8 L357.0 1077.6 L358.0 1077.6 L359.0 1077.6 L360.0 1077.6 L361.0 1077.6 L362.0 1077.5 L363.0 1077.2 L364.0 1076.9 L365.0 1076.7 L366.0 1076.5 L367.0 1076.5 L368.0 1076.5 L369.0 1076.5 L370.0 1076.5 L371.0 1076.6 L372.0 1076.7 L373.0 1076.8 L374.0 1076.7 L375.0 1076.6 L376.0 1076.5 L377.0 1076.4 L378.0 1076.4 L379.0 1076.4 L380.0 1076.4 L381.0 1076.5 L382.0 1076.6 L383.0 1076.6 L384.0 1076.6 L385.0 1076.5 L386.0 1076.4 L387.0 1076.4 L388.0 1076.5 L389.0 1076.7 L390.0 1076.8 L391.0 1076.9 L392.0 1076.8 L393.0 1076.8 L394.0 1076.7 L395.0 1076.7 L396.0 1076.5 L397.0 1076.2 L398.0 1075.8 L399.0 1075.5 L400.0 1075.3 L401.0 1075.2 L402.0 1075.3 L403.0 1075.4 L404.0 1075.5 L405.0 1075.8 L406.0 1076.0 L407.0 1076.2 L408.0 1076.3 L409.0 1076.3 L410.0 1076.2 L411.0 1076.2 L412.0 1076.2 L413.0 1076.2 L414.0 1076.2 L415.0 1076.2 L416.0 1076.3 L417.0 1076.5 L418.0 1076.6 L419.0 1076.6 L420.0 1076.4 L421.0 1076.1 L422.0 1075.8 L423.0 1075.7 L424.0 1075.8 L425.0 1075.9 L426.0 1075.9 L427.0 1075.5 L428.0 1075.1 L429.0 1074.8 L430.0 1074.6 L431.0 1074.6 L432.0 1074.7 L433.0 1074.8 L434.0 1074.9 L435.0 1075.0 L436.0 1075.0 L437.0 1074.9 L438.0 1074.7 L439.0 1074.5 L440.0 1074.4 L441.0 1074.4 L442.0 1074.4 L443.0 1074.6 L444.0 1074.7 L445.0 1074.8 L446.0 1074.9 L447.0 1075.0 L448.0 1075.0 L449.0 1075.1 L450.0 1075.0 L451.0 1074.8 L452.0 1074.7 L453.0 1074.7 L454.0 1075.0 L455.0 1075.2 L456.0 1075.3 L457.0 1075.1 L458.0 1074.8 L459.0 1074.6 L460.0 1074.4 L461.0 1074.3 L462.0 1074.3 L463.0 1074.3 L464.0 1074.2 L465.0 1073.9 L466.0 1073.6 L467.0 1073.5 L468.0 1073.4 L469.0 1073.5 L470.0 1073.7 L471.0 1074.0 L472.0 1074.3 L473.0 1074.3 L474.0 1074.1 L475.0 1073.8 L476.0 1073.5 L477.0 1073.4 L478.0 1073.3 L479.0 1073.5 L480.0 1073.7 L481.0 1074.0 L482.0 1074.3 L483.0 1074.5 L484.0 1074.5 L485.0 1074.5 L486.0 1074.4 L487.0 1074.3 L488.0 1074.1 L489.0 1073.8 L490.0 1073.4 L491.0 1073.0 L492.0 1072.9 L493.0 1073.0 L494.0 1073.1 L495.0 1073.2 L496.0 1073.0 L497.0 1072.8 L498.0 1072.5 L499.0 1072.2 L500.0 1072.0 L501.0 1071.9 L502.0 1071.9 L503.0 1072.0 L504.0 1072.0 L505.0 1071.9 L506.0 1072.0 L507.0 1072.1 L508.0 1072.3 L509.0 1072.5 L510.0 1072.6 L511.0 1072.5 L512.0 1072.4 L513.0 1072.4 L514.0 1072.4 L515.0 1072.4 L516.0 1072.4 L517.0 1072.4 L518.0 1072.4 L519.0 1072.5 L520.0 1072.4 L521.0 1072.2 L522.0 1071.9 L523.0 1071.6 L524.0 1071.3 L525.0 1071.0 L526.0 1070.9 L527.0 1071.0 L528.0 1071.2 L529.0 1071.4 L530.0 1071.5 L531.0 1071.6 L532.0 1071.6 L533.0 1071.6 L534.0 1071.6 L535.0 1071.4 L536.0 1071.1 L537.0 1070.8 L538.0 1070.6 L539.0 1070.4 L540.0 1070.3 L541.0 1070.3 L542.0 1070.4 L543.0 1070.4 L544.0 1070.3 L545.0 1070.2 L546.0 1070.0 L547.0 1070.0 L548.0 1070.0 L549.0 1070.1 L550.0 1070.0 L551.0 1069.8 L552.0 1069.6 L553.0 1069.3 L554.0 1069.2 L555.0 1069.2 L556.0 1069.2 L557.0 1069.1 L558.0 1068.9 L559.0 1068.6 L560.0 1068.4 L561.0 1068.4 L562.0 1068.6 L563.0 1068.9 L564.0 1069.1 L565.0 1069.0 L566.0 1068.9 L567.0 1068.7 L568.0 1068.7 L569.0 1068.7 L570.0 1068.6 L571.0 1068.5 L572.0 1068.4 L573.0 1068.3 L574.0 1068.2 L575.0 1068.0 L576.0 1067.8 L577.0 1067.5 L578.0 1067.2 L579.0 1067.1 L580.0 1067.2 L581.0 1067.2 L582.0 1067.3 L583.0 1067.4 L584.0 1067.5 L585.0 1067.6 L586.0 1067.7 L587.0 1067.8 L588.0 1067.7 L589.0 1067.5 L590.0 1067.3 L591.0 1066.9 L592.0 1066.6 L593.0 1066.2 L594.0 1065.8 L595.0 1065.4 L596.0 1065.0 L597.0 1064.8 L598.0 1064.8 L599.0 1065.0 L600.0 1065.1 L601.0 1065.3 L602.0 1065.3 L603.0 1065.2 L604.0 1064.9 L605.0 1064.5 L606.0 1064.2 L607.0 1064.1 L608.0 1064.0 L609.0 1063.9 L610.0 1063.9 L611.0 1063.8 L612.0 1063.9 L613.0 1064.1 L614.0 1064.3 L615.0 1064.3 L616.0 1064.0 L617.0 1063.5 L618.0 1062.9 L619.0 1062.6 L620.0 1062.6 L621.0 1062.7 L622.0 1062.8 L623.0 1063.0 L624.0 1063.1 L625.0 1063.1 L626.0 1063.0 L627.0 1062.8 L628.0 1062.5 L629.0 1062.2 L630.0 1061.9 L631.0 1061.6 L632.0 1061.3 L633.0 1061.3 L634.0 1061.6 L635.0 1061.9 L636.0 1062.1 L637.0 1062.1 L638.0 1061.8 L639.0 1061.4 L640.0 1061.1 L641.0 1060.8 L642.0 1060.7 L643.0 1060.7 L644.0 1060.6 L645.0 1060.4 L646.0 1060.3 L647.0 1060.2 L648.0 1060.2 L649.0 1060.1 L650.0 1060.1 L651.0 1059.9 L652.0 1059.8 L653.0 1059.6 L654.0 1059.6 L655.0 1059.7 L656.0 1059.7 L657.0 1059.4 L658.0 1058.9 L659.0 1058.2 L660.0 1057.7 L661.0 1057.3 L662.0 1057.1 L663.0 1056.9 L664.0 1056.7 L665.0 1056.3 L666.0 1056.1 L667.0 1056.0 L668.0 1055.9 L669.0 1055.9 L670.0 1055.9 L671.0 1055.7 L672.0 1055.5 L673.0 1055.5 L674.0 1055.6 L675.0 1055.7 L676.0 1055.8 L677.0 1055.5 L678.0 1055.2 L679.0 1055.0 L680.0 1054.9 L681.0 1054.9 L682.0 1055.0 L683.0 1055.0 L684.0 1054.9 L685.0 1054.7 L686.0 1054.4 L687.0 1054.1 L688.0 1053.7 L689.0 1053.3 L690.0 1052.8 L691.0 1052.5 L692.0 1052.1 L693.0 1051.7 L694.0 1051.5 L695.0 1051.6 L696.0 1051.9 L697.0 1052.3 L698.0 1052.5 L699.0 1052.5 L700.0 1052.1 L701.0 1051.5 L702.0 1051.0 L703.0 1050.5 L704.0 1050.1 L705.0 1049.9 L706.0 1049.7 L707.0 1049.7 L708.0 1049.6 L709.0 1049.7 L710.0 1049.7 L711.0 1049.6 L712.0 1049.4 L713.0 1049.1 L714.0 1048.8 L715.0 1048.6 L716.0 1048.5 L717.0 1048.5 L718.0 1048.4 L719.0 1048.3 L720.0 1047.9 L721.0 1047.5 L722.0 1047.1 L723.0 1046.8 L724.0 1046.7 L725.0 1046.6 L726.0 1046.5 L727.0 1046.5 L728.0 1046.4 L729.0 1046.3 L730.0 1046.2 L731.0 1046.1 L732.0 1045.8 L733.0 1045.5 L734.0 1045.1 L735.0 1044.8 L736.0 1044.3 L737.0 1043.9 L738.0 1043.6 L739.0 1043.4 L740.0 1043.2 L741.0 1042.8 L742.0 1042.2 L743.0 1041.6 L744.0 1041.2 L745.0 1041.0 L746.0 1041.2 L747.0 1041.4 L748.0 1041.6 L749.0 1041.4 L750.0 1041.1 L751.0 1040.7 L752.0 1040.3 L753.0 1040.0 L754.0 1039.8 L755.0 1039.7 L756.0 1039.7 L757.0 1039.7 L758.0 1039.5 L759.0 1039.2 L760.0 1038.9 L761.0 1038.6 L762.0 1038.4 L763.0 1038.1 L764.0 1037.7 L765.0 1037.4 L766.0 1037.1 L767.0 1037.0 L768.0 1036.9 L769.0 1036.8 L770.0 1036.7 L771.0 1036.6 L772.0 1036.3 L773.0 1036.0 L774.0 1035.6 L775.0 1035.0 L776.0 1034.3 L777.0 1033.5 L778.0 1032.9 L779.0 1032.4 L780.0 1032.1 L781.0 1031.8 L782.0 1031.3 L783.0 1030.8 L784.0 1030.5 L785.0 1030.4 L786.0 1030.6 L787.0 1031.0 L788.0 1031.1 L789.0 1030.8 L790.0 1030.0 L791.0 1028.8 L792.0 1027.7 L793.0 1027.0 L794.0 1026.9 L795.0 1027.1 L796.0 1027.3 L797.0 1027.4 L798.0 1027.2 L799.0 1026.8 L800.0 1026.3 L801.0 1025.6 L802.0 1025.0 L803.0 1024.5 L804.0 1024.3 L805.0 1024.1 L806.0 1023.8 L807.0 1023.3 L808.0 1022.7 L809.0 1022.1 L810.0 1021.6 L811.0 1021.3 L812.0 1020.9 L813.0 1020.6 L814.0 1020.3 L815.0 1019.9 L816.0 1019.4 L817.0 1018.8 L818.0 1018.3 L819.0 1017.9 L820.0 1017.4 L821.0 1016.9 L822.0 1016.3 L823.0 1015.7 L824.0 1015.2 L825.0 1014.8 L826.0 1014.4 L827.0 1013.9 L828.0 1013.2 L829.0 1012.5 L830.0 1011.8 L831.0 1011.4 L832.0 1011.1 L833.0 1010.9 L834.0 1010.8 L835.0 1010.6 L836.0 1010.2 L837.0 1009.8 L838.0 1009.4 L839.0 1009.0 L840.0 1008.6 L841.0 1008.2 L842.0 1007.7 L843.0 1007.2 L844.0 1006.8 L845.0 1006.5 L846.0 1006.2 L847.0 1006.1 L848.0 1006.0 L849.0 1005.9 L850.0 1005.6 L851.0 1005.0 L852.0 1004.3 L853.0 1003.4 L854.0 1002.8 L855.0 1002.4 L856.0 1002.2 L857.0 1001.9 L858.0 1001.5 L859.0 1001.0 L860.0 1000.4 L861.0 999.9 L862.0 999.4 L863.0 998.9 L864.0 998.6 L865.0 998.6 L866.0 998.6 L867.0 998.5 L868.0 998.2 L869.0 997.8 L870.0 997.2 L871.0 996.7 L872.0 995.9 L873.0 995.0 L874.0 994.0 L875.0 993.0 L876.0 991.9 L877.0 990.9 L878.0 989.7 L879.0 988.4 L880.0 987.3 L881.0 986.4 L882.0 985.9 L883.0 985.5 L884.0 985.3 L885.0 985.1 L886.0 985.0 L887.0 984.8 L888.0 984.6 L889.0 984.1 L890.0 983.4 L891.0 982.5 L892.0 981.6 L893.0 980.7 L894.0 979.8 L895.0 978.7 L896.0 977.6 L897.0 976.4 L898.0 975.4 L899.0 974.5 L900.0 973.8 L901.0 973.2 L902.0 972.6 L903.0 972.1 L904.0 971.4 L905.0 970.6 L906.0 969.7 L907.0 968.9 L908.0 968.3 L909.0 967.9 L910.0 967.5 L911.0 967.1 L912.0 966.5 L913.0 965.8 L914.0 965.2 L915.0 964.5 L916.0 963.9 L917.0 963.3 L918.0 962.6 L919.0 961.9 L920.0 961.3 L921.0 960.7 L922.0 960.2 L923.0 959.5 L924.0 958.8 L925.0 957.9 L926.0 956.9 L927.0 955.9 L928.0 954.8 L929.0 953.8 L930.0 952.8 L931.0 952.0 L932.0 951.2 L933.0 950.6 L934.0 950.1 L935.0 949.4 L936.0 948.6 L937.0 947.7 L938.0 946.8 L939.0 945.8 L940.0 944.6 L941.0 943.3 L942.0 942.0 L943.0 940.8 L944.0 939.8 L945.0 939.0 L946.0 938.2 L947.0 937.6 L948.0 936.9 L949.0 936.2 L950.0 935.5 L951.0 934.7 L952.0 933.9 L953.0 932.8 L954.0 931.6 L955.0 930.2 L956.0 928.7 L957.0 927.2 L958.0 925.7 L959.0 924.4 L960.0 923.2 L961.0 922.1 L962.0 920.8 L963.0 919.4 L964.0 917.9 L965.0 916.4 L966.0 915.3 L967.0 914.5 L968.0 913.9 L969.0 913.3 L970.0 912.6 L971.0 911.7 L972.0 910.6 L973.0 909.4 L974.0 908.3 L975.0 907.2 L976.0 906.3 L977.0 905.4 L978.0 904.4 L979.0 903.2 L980.0 902.0 L981.0 901.0 L982.0 900.1 L983.0 899.3 L984.0 898.6 L985.0 897.8 L986.0 897.0 L987.0 896.1 L988.0 895.1 L989.0 894.0 L990.0 892.8 L991.0 891.5 L992.0 890.4 L993.0 889.4 L994.0 888.7 L995.0 888.2 L996.0 887.6 L997.0 886.9 L998.0 885.9 L999.0 884.7 L1000.0 883.6 L1001.0 882.4 L1002.0 881.4 L1003.0 880.3 L1004.0 878.9 L1005.0 877.3 L1006.0 875.5 L1007.0 873.6 L1008.0 871.7 L1009.0 870.1 L1010.0 868.9 L1011.0 868.2 L1012.0 867.6 L1013.0 866.9 L1014.0 865.8 L1015.0 864.4 L1016.0 862.6 L1017.0 860.7 L1018.0 859.0 L1019.0 857.4 L1020.0 855.9 L1021.0 854.4 L1022.0 852.9 L1023.0 851.4 L1024.0 849.9 L1025.0 848.5 L1026.0 847.1 L1027.0 845.6 L1028.0 844.3 L1029.0 843.2 L1030.0 842.3 L1031.0 841.3 L1032.0 840.2 L1033.0 838.9 L1034.0 837.5 L1035.0 836.1 L1036.0 834.7 L1037.0 833.3 L1038.0 832.0 L1039.0 830.7 L1040.0 829.5 L1041.0 828.3 L1042.0 827.1 L1043.0 825.6 L1044.0 824.0 L1045.0 822.3 L1046.0 820.6 L1047.0 818.9 L1048.0 817.1 L1049.0 815.3 L1050.0 813.7 L1051.0 812.1 L1052.0 810.7 L1053.0 809.2 L1054.0 807.6 L1055.0 806.1 L1056.0 804.6 L1057.0 803.2 L1058.0 801.9 L1059.0 800.3 L1060.0 798.5 L1061.0 796.7 L1062.0 795.2 L1063.0 794.1 L1064.0 793.1 L1065.0 791.8 L1066.0 790.1 L1067.0 788.0 L1068.0 786.0 L1069.0 784.4 L1070.0 783.1 L1071.0 782.1 L1072.0 781.1 L1073.0 779.9 L1074.0 778.4 L1075.0 776.6 L1076.0 774.7 L1077.0 772.6 L1078.0 770.6 L1079.0 769.1 L1080.0 767.9 L1081.0 766.7 L1082.0 765.2 L1083.0 763.5 L1084.0 761.8 L1085.0 760.3 L1086.0 759.0 L1087.0 757.7 L1088.0 756.2 L1089.0 754.7 L1090.0 753.1 L1091.0 751.4 L1092.0 749.7 L1093.0 748.2 L1094.0 746.8 L1095.0 745.3 L1096.0 743.8 L1097.0 742.1 L1098.0 740.3 L1099.0 738.2 L1100.0 735.9 L1101.0 733.4 L1102.0 731.0 L1103.0 729.0 L1104.0 727.4 L1105.0 726.3 L1106.0 725.3 L1107.0 724.3 L1108.0 722.7 L1109.0 720.5 L1110.0 717.7 L1111.0 714.8 L1112.0 712.1 L1113.0 709.8 L1114.0 707.9 L1115.0 706.2 L1116.0 704.5 L1117.0 702.8 L1118.0 701.2 L1119.0 699.7 L1120.0 698.6 L1121.0 697.7 L1122.0 696.9 L1123.0 695.7 L1124.0 694.1 L1125.0 692.1 L1126.0 690.2 L1127.0 688.2 L1128.0 686.1 L1129.0 683.6 L1130.0 680.7 L1131.0 677.6 L1132.0 674.8 L1133.0 672.4 L1134.0 670.5 L1135.0 668.8 L1136.0 667.1 L1137.0 665.1 L1138.0 662.9 L1139.0 660.5 L1140.0 658.2 L1141.0 655.9 L1142.0 653.9 L1143.0 652.2 L1144.0 650.5 L1145.0 648.8 L1146.0 646.8 L1147.0 644.3 L1148.0 641.5 L1149.0 638.6 L1150.0 635.8 L1151.0 633.5 L1152.0 631.4 L1153.0 629.5 L1154.0 627.5 L1155.0 625.5 L1156.0 623.4 L1157.0 621.2 L1158.0 619.0 L1159.0 616.8 L1160.0 614.6 L1161.0 612.2 L1162.0 609.6 L1163.0 606.6 L1164.0 603.7 L1165.0 601.1 L1166.0 599.1 L1167.0 597.3 L1168.0 595.7 L1169.0 594.2 L1170.0 592.7 L1171.0 591.1 L1172.0 589.5 L1173.0 587.7 L1174.0 585.7 L1175.0 583.3 L1176.0 580.6 L1177.0 577.9 L1178.0 575.3 L1179.0 573.2 L1180.0 571.6 L1181.0 570.3 L1182.0 568.8 L1183.0 566.8 L1184.0 564.3 L1185.0 561.3 L1186.0 558.1 L1187.0 555.1 L1188.0 552.5 L1189.0 550.1 L1190.0 547.7 L1191.0 545.2 L1192.0 542.6 L1193.0 540.2 L1194.0 537.9 L1195.0 535.6 L1196.0 533.2 L1197.0 530.7 L1198.0 528.2 L1199.0 526.0 L1200.0 524.0 L1201.0 522.2 L1202.0 520.3 L1203.0 518.3 L1204.0 516.0 L1205.0 513.4 L1206.0 510.6 L1207.0 507.5 L1208.0 504.4 L1209.0 501.4 L1210.0 498.5 L1211.0 495.8 L1212.0 493.2 L1213.0 490.6 L1214.0 487.8 L1215.0 485.1 L1216.0 482.6 L1217.0 480.3 L1218.0 478.1 L1219.0 475.7 L1220.0 473.2 L1221.0 470.6 L1222.0 467.9 L1223.0 464.8 L1224.0 461.3 L1225.0 457.8 L1226.0 454.5 L1227.0 451.6 L1228.0 449.1 L1229.0 446.9 L1230.0 444.7 L1231.0 442.6 L1232.0 440.3 L1233.0 437.8 L1234.0 434.9 L1235.0 431.8 L1236.0 428.6 L1237.0 425.5 L1238.0 422.5 L1239.0 419.5 L1240.0 416.3 L1241.0 412.4 L1242.0 408.2 L1243.0 404.1 L1244.0 400.8 L1245.0 398.3 L1246.0 396.2 L1247.0 393.9 L1248.0 391.2 L1249.0 388.1 L1250.0 385.0 L1251.0 382.2 L1252.0 379.8 L1253.0 377.5 L1254.0 374.7 L1255.0 371.2 L1256.0 367.1 L1257.0 362.9 L1258.0 359.1 L1259.0 356.0 L1260.0 353.3 L1261.0 350.9 L1262.0 348.3 L1263.0 345.3 L1264.0 342.1 L1265.0 339.1 L1266.0 336.6 L1267.0 334.5 L1268.0 332.6 L1269.0 330.5 L1270.0 328.0 L1271.0 325.0 L1272.0 321.6 L1273.0 318.1 L1274.0 315.0 L1275.0 312.7 L1276.0 310.8 L1277.0 308.8 L1278.0 306.3 L1279.0 303.3 L1280.0 300.1 L1281.0 297.1 L1282.0 294.4 L1283.0 291.8 L1284.0 289.2 L1285.0 286.5 L1286.0 283.8 L1287.0 281.3 L1288.0 278.9 L1289.0 276.6 L1290.0 274.3 L1291.0 272.0 L1292.0 269.5 L1293.0 266.7 L1294.0 263.4 L1295.0 259.5 L1296.0 255.3 L1297.0 251.1 L1298.0 247.3 L1299.0 244.0 L1300.0 241.2 L1301.0 238.6 L1302.0 236.2 L1303.0 233.8 L1304.0 231.7 L1305.0 230.0 L1306.0 228.5 L1307.0 226.8 L1308.0 224.8 L1309.0 222.3 L1310.0 219.4 L1311.0 216.4 L1312.0 213.4 L1313.0 210.6 L1314.0 208.0 L1315.0 205.5 L1316.0 203.1 L1317.0 200.8 L1318.0 198.4 L1319.0 196.0 L1320.0 193.6 L1321.0 191.2 L1322.0 189.0 L1323.0 186.8 L1324.0 184.7 L1325.0 182.7 L1326.0 180.9 L1327.0 179.3 L1328.0 177.8 L1329.0 176.3 L1330.0 174.7 L1331.0 173.1 L1332.0 171.2 L1333.0 169.0 L1334.0 166.7 L1335.0 164.4 L1336.0 162.3 L1337.0 160.5 L1338.0 158.9 L1339.0 157.3 L1340.0 155.6 L1341.0 153.7 L1342.0 151.7 L1343.0 149.8 L1344.0 148.2 L1345.0 146.8 L1346.0 145.4 L1347.0 144.0 L1348.0 142.8 L1349.0 141.8 L1350.0 141.0 L1351.0 140.4 L1352.0 139.8 L1353.0 139.2 L1354.0 138.5 L1355.0 137.8 L1356.0 137.0 L1357.0 136.0 L1358.0 135.2 L1359.0 134.5 L1360.0 134.2 L1361.0 134.2 L1362.0 134.2 L1363.0 134.0 L1364.0 133.6 L1365.0 133.0 L1366.0 132.4 L1367.0 132.1 L1368.0 131.9 L1369.0 131.7 L1370.0 131.4 L1371.0 131.2 L1372.0 131.1 L1373.0 131.1 L1374.0 131.1 L1375.0 131.0 L1376.0 130.8 L1377.0 130.6 L1378.0 130.3 L1379.0 130.1 L1380.0 130.1 L1381.0 130.1 L1382.0 130.3 L1383.0 130.6 L1384.0 131.1 L1385.0 131.5 L1386.0 132.0 L1387.0 132.6 L1388.0 133.3 L1389.0 134.4 L1390.0 135.9 L1391.0 137.6 L1392.0 139.5 L1393.0 141.2 L1394.0 142.7 L1395.0 143.9 L1396.0 144.8 L1397.0 145.8 L1398.0 146.8 L1399.0 147.9 L1400.0 149.0 L1401.0 150.3 L1402.0 151.7 L1403.0 153.1 L1404.0 154.5 L1405.0 155.9 L1406.0 157.6 L1407.0 159.8 L1408.0 162.2 L1409.0 164.6 L1410.0 166.7 L1411.0 168.6 L1412.0 170.4 L1413.0 172.2 L1414.0 174.3 L1415.0 177.0 L1416.0 180.0 L1417.0 183.0 L1418.0 185.7 L1419.0 187.9 L1420.0 189.8 L1421.0 191.6 L1422.0 193.6 L1423.0 196.0 L1424.0 199.0 L1425.0 202.3 L1426.0 205.8 L1427.0 209.5 L1428.0 213.2 L1429.0 216.9 L1430.0 220.5 L1431.0 224.0 L1432.0 227.6 L1433.0 231.4 L1434.0 235.3 L1435.0 239.1 L1436.0 242.5 L1437.0 245.7 L1438.0 249.0 L1439.0 252.6 L1440.0 256.9 L1441.0 261.6 L1442.0 266.4 L1443.0 271.1 L1444.0 275.3 L1445.0 279.1 L1446.0 282.4 L1447.0 285.5 L1448.0 288.5 L1449.0 292.0 L1450.0 296.1 L1451.0 300.6 L1452.0 305.3 L1453.0 310.2 L1454.0 315.2 L1455.0 320.3 L1456.0 325.6 L1457.0 331.4 L1458.0 337.5 L1459.0 343.6 L1460.0 349.2 L1461.0 354.4 L1462.0 359.0 L1463.0 363.4 L1464.0 367.7 L1465.0 372.1 L1466.0 377.0 L1467.0 382.1 L1468.0 387.0 L1469.0 391.6 L1470.0 396.0 L1471.0 400.2 L1472.0 404.7 L1473.0 409.4 L1474.0 414.5 L1475.0 419.9 L1476.0 425.2 L1477.0 430.3 L1478.0 435.1 L1479.0 439.6 L1480.0 444.3 L1481.0 449.1 L1482.0 454.1 L1483.0 459.1 L1484.0 464.3 L1485.0 469.6 L1486.0 475.2 L1487.0 480.7 L1488.0 486.1 L1489.0 491.3 L1490.0 496.5 L1491.0 502.3 L1492.0 508.9 L1493.0 516.2 L1494.0 523.9 L1495.0 531.5 L1496.0 538.4 L1497.0 544.5 L1498.0 550.4 L1499.0 556.4 L1500.0 562.5 L1501.0 568.6 L1502.0 574.7 L1503.0 580.7 L1504.0 586.7 L1505.0 592.3 L1506.0 597.4 L1507.0 602.0 L1508.0 606.7 L1509.0 611.7 L1510.0 617.1 L1511.0 622.8 L1512.0 629.0 L1513.0 635.9 L1514.0 643.2 L1515.0 650.6 L1516.0 657.9 L1517.0 664.7 L1518.0 670.8 L1519.0 675.7 L1520.0 679.2 L1521.0 681.8 L1522.0 684.5 L1523.0 688.3 L1524.0 693.7 L1525.0 699.9 L1526.0 706.1 L1527.0 711.5 L1528.0 716.1 L1529.0 720.0 L1530.0 723.7 L1531.0 727.7 L1532.0 732.5 L1533.0 737.7 L1534.0 743.2 L1535.0 748.5 L1536.0 754.0 L1537.0 759.5 L1538.0 765.1 L1539.0 770.2 L1540.0 774.6 L1541.0 778.3 L1542.0 781.7 L1543.0 785.5 L1544.0 790.1 L1545.0 795.2 L1546.0 800.3 L1547.0 805.0 L1548.0 809.3 L1549.0 813.7 L1550.0 818.4 L1551.0 823.4 L1552.0 828.4 L1553.0 833.1 L1554.0 837.1 L1555.0 840.7 L1556.0 844.7 L1557.0 849.3 L1558.0 854.3 L1559.0 859.0 L1560.0 863.3 L1561.0 867.3 L1562.0 871.4 L1563.0 875.9 L1564.0 880.7 L1565.0 885.2 L1566.0 889.0 L1567.0 892.2 L1568.0 894.9 L1569.0 897.4 L1570.0 899.9 L1571.0 902.7 L1572.0 905.8 L1573.0 909.3 L1574.0 912.9 L1575.0 916.2 L1576.0 919.3 L1577.0 922.1 L1578.0 924.6 L1579.0 927.2 L1580.0 929.9 L1581.0 932.7 L1582.0 935.4 L1583.0 937.7 L1584.0 939.8 L1585.0 941.8 L1586.0 944.2 L1587.0 947.1 L1588.0 950.5 L1589.0 953.9 L1590.0 957.1 L1591.0 959.8 L1592.0 962.1 L1593.0 964.0 L1594.0 965.6 L1595.0 967.1 L1596.0 968.7 L1597.0 970.6 L1598.0 972.8 L1599.0 975.2 L1600.0 977.7 L1601.0 979.8 L1602.0 981.7 L1603.0 983.3 L1604.0 984.7 L1605.0 986.4 L1606.0 988.5 L1607.0 990.8 L1608.0 993.2 L1609.0 995.3 L1610.0 996.9 L1611.0 998.2 L1612.0 999.3 L1613.0 1000.6 L1614.0 1002.2 L1615.0 1004.2 L1616.0 1006.4 L1617.0 1008.5 L1618.0 1010.3 L1619.0 1011.7 L1620.0 1012.8 L1621.0 1013.8 L1622.0 1014.8 L1623.0 1015.9 L1624.0 1017.0 L1625.0 1018.1 L1626.0 1019.2 L1627.0 1020.1 L1628.0 1020.6 L1629.0 1021.1 L1630.0 1021.7 L1631.0 1022.6 L1632.0 1023.9 L1633.0 1025.4 L1634.0 1026.9 L1635.0 1028.1 L1636.0 1029.0 L1637.0 1029.7 L1638.0 1030.3 L1639.0 1030.9 L1640.0 1031.6 L1641.0 1032.3 L1642.0 1033.1 L1643.0 1033.8 L1644.0 1034.5 L1645.0 1035.1 L1646.0 1035.6 L1647.0 1036.2 L1648.0 1036.7 L1649.0 1037.2 L1650.0 1037.5 L1651.0 1037.8 L1652.0 1037.9 L1653.0 1038.1 L1654.0 1038.4 L1655.0 1038.9 L1656.0 1039.6 L1657.0 1040.2 L1658.0 1040.9 L1659.0 1041.7 L1660.0 1042.5 L1661.0 1043.2 L1662.0 1043.7 L1663.0 1044.0 L1664.0 1044.3 L1665.0 1044.7 L1666.0 1045.3 L1667.0 1046.1 L1668.0 1046.8 L1669.0 1047.2 L1670.0 1047.3 L1671.0 1047.3 L1672.0 1047.2 L1673.0 1047.4 L1674.0 1047.7 L1675.0 1048.1 L1676.0 1048.6 L1677.0 1049.1 L1678.0 1049.3 L1679.0 1049.4 L1680.0 1049.5 L1681.0 1049.8 L1682.0 1050.3 L1683.0 1050.9 L1684.0 1051.4 L1685.0 1051.9 L1686.0 1052.2 L1687.0 1052.5 L1688.0 1052.7 L1689.0 1052.8 L1690.0 1052.7 L1691.0 1052.6 L1692.0 1052.6 L1693.0 1052.6 L1694.0 1052.9 L1695.0 1053.3 L1696.0 1053.7 L1697.0 1054.2 L1698.0 1054.6 L1699.0 1054.9 L1700.0 1055.2 L1701.0 1055.5 L1702.0 1055.7 L1703.0 1055.8 L1704.0 1055.8 L1705.0 1055.7 L1706.0 1055.0 L1706.0 1054.9"/>
<path class="c" stroke="#008000" stroke-width="5.1" d="M46.0 1107.7 L47.0 1107.6 L48.0 1107.6 L49.0 1107.6 L50.0 1107.6 L51.0 1107.6 L52.0 1107.5 L53.0 1107.3 L54.0 1107.0 L55.0 1106.8 L56.0 1106.8 L57.0 1106.9 L58.0 1107.2 L59.0 1107.5 L60.0 1107.6 L61.0 1107.6 L62.0 1107.4 L63.0 1107.4 L64.0 1107.5 L65.0 1107.5 L66.0 1107.5 L67.0 1107.3 L68.0 1107.0 L69.0 1106.7 L70.0 1106.7 L71.0 1106.8 L72.0 1106.9 L73.0 1107.1 L74.0 1107.2 L75.0 1107.2 L76.0 1107.2 L77.0 1107.1 L78.0 1107.0 L79.0 1107.0 L80.0 1107.1 L81.0 1107.3 L82.0 1107.4 L83.0 1107.4 L84.0 1107.3 L85.0 1107.3 L86.0 1107.2 L87.0 1107.3 L88.0 1107.3 L89.0 1107.4 L90.0 1107.4 L91.0 1107.4 L92.0 1107.4 L93.0 1107.4 L94.0 1107.5 L95.0 1107.5 L96.0 1107.5 L97.0 1107.5 L98.0 1107.3 L99.0 1107.1 L100.0 1106.9 L101.0 1106.8 L102.0 1106.7 L103.0 1106.8 L104.0 1106.9 L105.0 1107.0 L106.0 1107.1 L107.0 1107.2 L108.0 1107.4 L109.0 1107.5 L110.0 1107.6 L111.0 1107.7 L112.0 1107.7 L113.0 1107.7 L114.0 1107.7 L115.0 1107.6 L116.0 1107.5 L117.0 1107.4 L118.0 1107.4 L119.0 1107.4 L120.0 1107.5 L121.0 1107.7 L122.0 1107.7 L123.0 1107.7 L124.0 1107.6 L125.0 1107.4 L126.0 1107.3 L127.0 1107.3 L128.0 1107.4 L129.0 1107.6 L130.0 1107.8 L131.0 1107.9 L132.0 1107.9 L133.0 1107.7 L134.0 1107.5 L135.0 1107.3 L136.0 1107.2 L137.0 1107.2 L138.0 1107.3 L139.0 1107.4 L140.0 1107.7 L141.0 1107.9 L142.0 1108.0 L143.0 1107.9 L144.0 1107.8 L145.0 1107.8 L146.0 1107.7 L147.0 1107.6 L148.0 1107.5 L149.0 1107.3 L150.0 1107.2 L151.0 1107.2 L152.0 1107.2 L153.0 1107.3 L154.0 1107.5 L155.0 1107.6 L156.0 1107.7 L157.0 1107.6 L158.0 1107.6 L159.0 1107.5 L160.0 1107.4 L161.0 1107.4 L162.0 1107.3 L163.0 1107.2 L164.0 1107.1 L165.0 1106.9 L166.0 1106.8 L167.0 1106.7 L168.0 1106.6 L169.0 1106.5 L170.0 1106.5 L171.0 1106.6 L172.0 1106.7 L173.0 1106.8 L174.0 1106.7 L175.0 1106.7 L176.0 1106.7 L177.0 1106.9 L178.0 1107.1 L179.0 1107.3 L180.0 1107.4 L181.0 1107.4 L182.0 1107.4 L183.0 1107.5 L184.0 1107.6 L185.0 1107.7 L186.0 1107.6 L187.0 1107.4 L188.0 1107.3 L189.0 1107.1 L190.0 1107.0 L191.0 1106.9 L192.0 1106.9 L193.0 1107.0 L194.0 1107.0 L195.0 1107.1 L196.0 1107.0 L197.0 1107.0 L198.0 1107.0 L199.0 1107.0 L200.0 1107.1 L201.0 1107.2 L202.0 1107.2 L203.0 1107.2 L204.0 1107.2 L205.0 1107.2 L206.0 1107.2 L207.0 1107.2 L208.0 1107.2 L209.0 1107.2 L210.0 1107.3 L211.0 1107.4 L212.0 1107.4 L213.0 1107.4 L214.0 1107.4 L215.0 1107.3 L216.0 1107.2 L217.0 1107.1 L218.0 1107.0 L219.0 1106.9 L220.0 1106.9 L221.0 1106.8 L222.0 1106.8 L223.0 1106.8 L224.0 1106.8 L225.0 1106.8 L226.0 1106.8 L227.0 1106.8 L228.0 1106.8 L229.0 1106.9 L230.0 1107.0 L231.0 1107.2 L232.0 1107.3 L233.0 1107.4 L234.0 1107.5 L235.0 1107.6 L236.0 1107.7 L237.0 1107.8 L238.0 1107.9 L239.0 1107.9 L240.0 1107.8 L241.0 1107.6 L242.0 1107.4 L243.0 1107.2 L244.0 1106.9 L245.0 1106.6 L246.0 1106.5 L247.0 1106.5 L248.0 1106.6 L249.0 1106.8 L250.0 1107.0 L251.0 1107.0 L252.0 1106.9 L253.0 1106.9 L254.0 1106.8 L255.0 1106.6 L256.0 1106.3 L257.0 1106.0 L258.0 1105.8 L259.0 1105.8 L260.0 1106.0 L261.0 1106.4 L262.0 1106.7 L263.0 1106.9 L264.0 1106.9 L265.0 1106.8 L266.0 1106.8 L267.0 1106.8 L268.0 1106.7 L269.0 1106.7 L270.0 1106.6 L271.0 1106.6 L272.0 1106.7 L273.0 1106.9 L274.0 1106.9 L275.0 1106.8 L276.0 1106.5 L277.0 1106.2 L278.0 1105.9 L279.0 1105.7 L280.0 1105.8 L281.0 1105.9 L282.0 1106.0 L283.0 1106.1 L284.0 1106.1 L285.0 1106.1 L286.0 1106.1 L287.0 1106.2 L288.0 1106.3 L289.0 1106.5 L290.0 1106.6 L291.0 1106.7 L292.0 1106.5 L293.0 1106.3 L294.0 1106.2 L295.0 1106.2 L296.0 1106.2 L297.0 1106.3 L298.0 1106.4 L299.0 1106.4 L300.0 1106.2 L301.0 1106.0 L302.0 1105.9 L303.0 1105.9 L304.0 1106.1 L305.0 1106.2 L306.0 1106.1 L307.0 1106.0 L308.0 1105.9 L309.0 1105.8 L310.0 1105.9 L311.0 1106.0 L312.0 1106.0 L313.0 1105.9 L314.0 1105.7 L315.0 1105.5 L316.0 1105.4 L317.0 1105.4 L318.0 1105.5 L319.0 1105.7 L320.0 1105.7 L321.0 1105.8 L322.0 1105.8 L323.0 1105.8 L324.0 1105.7 L325.0 1105.5 L326.0 1105.4 L327.0 1105.4 L328.0 1105.4 L329.0 1105.5 L330.0 1105.7 L331.0 1106.0 L332.0 1106.1 L333.0 1106.1 L334.0 1105.9 L335.0 1105.7 L336.0 1105.6 L337.0 1105.7 L338.0 1105.9 L339.0 1106.1 L340.0 1106.2 L341.0 1106.1 L342.0 1106.0 L343.0 1105.9 L344.0 1105.9 L345.0 1105.9 L346.0 1105.9 L347.0 1105.8 L348.0 1105.6 L349.0 1105.4 L350.0 1105.2 L351.0 1105.2 L352.0 1105.2 L353.0 1105.3 L354.0 1105.4 L355.0 1105.5 L356.0 1105.5 L357.0 1105.5 L358.0 1105.6 L359.0 1105.6 L360.0 1105.7 L361.0 1105.8 L362.0 1105.9 L363.0 1105.9 L364.0 1105.9 L365.0 1105.8 L366.0 1105.6 L367.0 1105.4 L368.0 1105.4 L369.0 1105.4 L370.0 1105.3 L371.0 1105.2 L372.0 1105.0 L373.0 1104.8 L374.0 1104.7 L375.0 1104.5 L376.0 1104.4 L377.0 1104.3 L378.0 1104.3 L379.0 1104.3 L380.0 1104.4 L381.0 1104.4 L382.0 1104.4 L383.0 1104.3 L384.0 1104.3 L385.0 1104.2 L386.0 1104.1 L387.0 1104.0 L388.0 1103.9 L389.0 1104.0 L390.0 1104.2 L391.0 1104.4 L392.0 1104.6 L393.0 1104.8 L394.0 1105.0 L395.0 1105.1 L396.0 1105.1 L397.0 1104.9 L398.0 1104.7 L399.0 1104.5 L400.0 1104.4 L401.0 1104.4 L402.0 1104.4 L403.0 1104.4 L404.0 1104.4 L405.0 1104.4 L406.0 1104.4 L407.0 1104.4 L408.0 1104.4 L409.0 1104.5 L410.0 1104.6 L411.0 1104.7 L412.0 1104.8 L413.0 1104.7 L414.0 1104.5 L415.0 1104.2 L416.0 1103.9 L417.0 1103.8 L418.0 1103.8 L419.0 1103.7 L420.0 1103.7 L421.0 1103.7 L422.0 1103.8 L423.0 1103.9 L424.0 1104.0 L425.0 1104.0 L426.0 1104.0 L427.0 1104.1 L428.0 1104.2 L429.0 1104.2 L430.0 1104.2 L431.0 1104.1 L432.0 1104.1 L433.0 1104.1 L434.0 1104.1 L435.0 1104.0 L436.0 1103.9 L437.0 1103.8 L438.0 1103.7 L439.0 1103.7 L440.0 1103.9 L441.0 1104.2 L442.0 1104.4 L443.0 1104.3 L444.0 1104.0 L445.0 1103.5 L446.0 1103.1 L447.0 1102.8 L448.0 1102.5 L449.0 1102.4 L450.0 1102.6 L451.0 1102.9 L452.0 1103.2 L453.0 1103.5 L454.0 1103.4 L455.0 1103.2 L456.0 1102.8 L457.0 1102.5 L458.0 1102.4 L459.0 1102.4 L460.0 1102.5 L461.0 1102.7 L462.0 1102.7 L463.0 1102.8 L464.0 1102.8 L465.0 1102.7 L466.0 1102.6 L467.0 1102.4 L468.0 1102.3 L469.0 1102.3 L470.0 1102.2 L471.0 1102.2 L472.0 1102.2 L473.0 1102.3 L474.0 1102.4 L475.0 1102.6 L476.0 1102.8 L477.0 1102.9 L478.0 1102.9 L479.0 1102.7 L480.0 1102.5 L481.0 1102.3 L482.0 1102.3 L483.0 1102.5 L484.0 1102.8 L485.0 1103.0 L486.0 1102.9 L487.0 1102.7 L488.0 1102.4 L489.0 1102.1 L490.0 1101.8 L491.0 1101.6 L492.0 1101.4 L493.0 1101.3 L494.0 1101.2 L495.0 1101.1 L496.0 1101.1 L497.0 1101.0 L498.0 1101.0 L499.0 1100.9 L500.0 1100.8 L501.0 1100.8 L502.0 1100.7 L503.0 1100.6 L504.0 1100.4 L505.0 1100.3 L506.0 1100.2 L507.0 1100.2 L508.0 1100.2 L509.0 1100.2 L510.0 1100.1 L511.0 1100.0 L512.0 1100.0 L513.0 1100.1 L514.0 1100.2 L515.0 1100.2 L516.0 1100.2 L517.0 1099.9 L518.0 1099.7 L519.0 1099.4 L520.0 1099.3 L521.0 1099.3 L522.0 1099.5 L523.0 1099.5 L524.0 1099.3 L525.0 1099.0 L526.0 1098.6 L527.0 1098.4 L528.0 1098.4 L529.0 1098.5 L530.0 1098.7 L531.0 1098.9 L532.0 1099.1 L533.0 1099.1 L534.0 1099.1 L535.0 1098.8 L536.0 1098.5 L537.0 1098.1 L538.0 1097.9 L539.0 1097.8 L540.0 1097.9 L541.0 1098.0 L542.0 1098.0 L543.0 1098.0 L544.0 1097.9 L545.0 1097.6 L546.0 1097.3 L547.0 1097.1 L548.0 1097.0 L549.0 1097.1 L550.0 1097.1 L551.0 1097.1 L552.0 1097.0 L553.0 1096.9 L554.0 1096.7 L555.0 1096.6 L556.0 1096.4 L557.0 1096.3 L558.0 1096.2 L559.0 1096.1 L560.0 1096.0 L561.0 1096.1 L562.0 1096.2 L563.0 1096.4 L564.0 1096.5 L565.0 1096.4 L566.0 1096.3 L567.0 1096.0 L568.0 1095.9 L569.0 1095.8 L570.0 1095.9 L571.0 1095.8 L572.0 1095.7 L573.0 1095.4 L574.0 1095.2 L575.0 1095.1 L576.0 1095.1 L577.0 1095.1 L578.0 1095.0 L579.0 1094.8 L580.0 1094.6 L581.0 1094.4 L582.0 1094.3 L583.0 1094.3 L584.0 1094.3 L585.0 1094.3 L586.0 1094.1 L587.0 1093.7 L588.0 1093.4 L589.0 1093.2 L590.0 1093.1 L591.0 1092.9 L592.0 1092.6 L593.0 1092.5 L594.0 1092.6 L595.0 1092.7 L596.0 1092.9 L597.0 1092.9 L598.0 1092.8 L599.0 1092.6 L600.0 1092.5 L601.0 1092.5 L602.0 1092.6 L603.0 1092.5 L604.0 1092.4 L605.0 1092.1 L606.0 1091.7 L607.0 1091.5 L608.0 1091.4 L609.0 1091.6 L610.0 1091.9 L611.0 1092.0 L612.0 1091.9 L613.0 1091.6 L614.0 1091.2 L615.0 1090.8 L616.0 1090.6 L617.0 1090.4 L618.0 1090.2 L619.0 1089.8 L620.0 1089.4 L621.0 1089.1 L622.0 1088.9 L623.0 1088.9 L624.0 1089.2 L625.0 1089.5 L626.0 1089.8 L627.0 1090.0 L628.0 1090.1 L629.0 1090.1 L630.0 1090.0 L631.0 1089.8 L632.0 1089.5 L633.0 1089.2 L634.0 1088.9 L635.0 1088.6 L636.0 1088.5 L637.0 1088.5 L638.0 1088.6 L639.0 1088.7 L640.0 1088.8 L641.0 1088.9 L642.0 1088.9 L643.0 1088.8 L644.0 1088.5 L645.0 1088.1 L646.0 1087.7 L647.0 1087.4 L648.0 1087.3 L649.0 1087.1 L650.0 1087.0 L651.0 1086.9 L652.0 1086.8 L653.0 1086.8 L654.0 1086.7 L655.0 1086.4 L656.0 1086.1 L657.0 1085.6 L658.0 1085.3 L659.0 1085.0 L660.0 1084.9 L661.0 1084.8 L662.0 1084.7 L663.0 1084.5 L664.0 1084.2 L665.0 1084.0 L666.0 1083.8 L667.0 1083.5 L668.0 1083.2 L669.0 1082.9 L670.0 1082.8 L671.0 1082.7 L672.0 1082.6 L673.0 1082.3 L674.0 1081.9 L675.0 1081.5 L676.0 1081.2 L677.0 1081.1 L678.0 1081.0 L679.0 1080.9 L680.0 1080.8 L681.0 1080.6 L682.0 1080.3 L683.0 1079.9 L684.0 1079.6 L685.0 1079.3 L686.0 1079.1 L687.0 1079.0 L688.0 1079.0 L689.0 1079.0 L690.0 1079.0 L691.0 1079.0 L692.0 1078.9 L693.0 1078.8 L694.0 1078.5 L695.0 1078.2 L696.0 1077.8 L697.0 1077.5 L698.0 1077.2 L699.0 1077.0 L700.0 1076.7 L701.0 1076.3 L702.0 1076.0 L703.0 1075.8 L704.0 1075.8 L705.0 1075.9 L706.0 1075.8 L707.0 1075.6 L708.0 1075.3 L709.0 1075.0 L710.0 1074.9 L711.0 1074.8 L712.0 1074.7 L713.0 1074.6 L714.0 1074.3 L715.0 1074.1 L716.0 1073.8 L717.0 1073.7 L718.0 1073.5 L719.0 1073.3 L720.0 1073.1 L721.0 1072.9 L722.0 1072.8 L723.0 1072.6 L724.0 1072.3 L725.0 1071.9 L726.0 1071.4 L727.0 1071.0 L728.0 1070.7 L729.0 1070.3 L730.0 1070.0 L731.0 1069.7 L732.0 1069.5 L733.0 1069.4 L734.0 1069.4 L735.0 1069.5 L736.0 1069.5 L737.0 1069.4 L738.0 1069.3 L739.0 1069.1 L740.0 1068.9 L741.0 1068.7 L742.0 1068.4 L743.0 1067.9 L744.0 1067.5 L745.0 1067.2 L746.0 1067.1 L747.0 1067.0 L748.0 1067.0 L749.0 1066.9 L750.0 1066.7 L751.0 1066.5 L752.0 1066.2 L753.0 1065.9 L754.0 1065.6 L755.0 1065.4 L756.0 1065.1 L757.0 1064.8 L758.0 1064.4 L759.0 1064.1 L760.0 1063.8 L761.0 1063.7 L762.0 1063.7 L763.0 1063.7 L764.0 1063.6 L765.0 1063.3 L766.0 1062.8 L767.0 1062.3 L768.0 1062.0 L769.0 1061.7 L770.0 1061.6 L771.0 1061.4 L772.0 1061.2 L773.0 1060.8 L774.0 1060.3 L775.0 1059.8 L776.0 1059.2 L777.0 1058.8 L778.0 1058.6 L779.0 1058.4 L780.0 1058.3 L781.0 1058.0 L782.0 1057.7 L783.0 1057.3 L784.0 1056.7 L785.0 1056.3 L786.0 1055.8 L787.0 1055.5 L788.0 1055.1 L789.0 1054.7 L790.0 1054.3 L791.0 1053.9 L792.0 1053.6 L793.0 1053.5 L794.0 1053.6 L795.0 1053.6 L796.0 1053.5 L797.0 1053.1 L798.0 1052.4 L799.0 1051.7 L800.0 1051.0 L801.0 1050.4 L802.0 1050.1 L803.0 1049.9 L804.0 1049.7 L805.0 1049.4 L806.0 1049.1 L807.0 1048.8 L808.0 1048.4 L809.0 1047.9 L810.0 1047.3 L811.0 1046.8 L812.0 1046.4 L813.0 1046.1 L814.0 1045.8 L815.0 1045.6 L816.0 1045.2 L817.0 1044.8 L818.0 1044.3 L819.0 1043.8 L820.0 1043.4 L821.0 1043.1 L822.0 1043.0 L823.0 1042.9 L824.0 1042.7 L825.0 1042.3 L826.0 1041.8 L827.0 1041.2 L828.0 1040.7 L829.0 1040.1 L830.0 1039.7 L831.0 1039.3 L832.0 1038.9 L833.0 1038.6 L834.0 1038.2 L835.0 1037.9 L836.0 1037.7 L837.0 1037.5 L838.0 1036.9 L839.0 1036.2 L840.0 1035.4 L841.0 1034.8 L842.0 1034.4 L843.0 1034.1 L844.0 1033.8 L845.0 1033.4 L846.0 1032.8 L847.0 1032.1 L848.0 1031.4 L849.0 1030.8 L850.0 1030.3 L851.0 1030.0 L852.0 1029.9 L853.0 1029.8 L854.0 1029.7 L855.0 1029.6 L856.0 1029.3 L857.0 1028.8 L858.0 1028.1 L859.0 1027.4 L860.0 1026.9 L861.0 1026.6 L862.0 1026.4 L863.0 1026.3 L864.0 1026.0 L865.0 1025.4 L866.0 1024.5 L867.0 1023.5 L868.0 1022.5 L869.0 1021.6 L870.0 1021.1 L871.0 1020.8 L872.0 1020.7 L873.0 1020.6 L874.0 1020.3 L875.0 1019.9 L876.0 1019.2 L877.0 1018.4 L878.0 1017.6 L879.0 1016.9 L880.0 1016.3 L881.0 1015.8 L882.0 1015.4 L883.0 1015.0 L884.0 1014.4 L885.0 1013.6 L886.0 1012.7 L887.0 1011.8 L888.0 1011.1 L889.0 1010.5 L890.0 1010.0 L891.0 1009.6 L892.0 1009.0 L893.0 1008.4 L894.0 1007.7 L895.0 1007.1 L896.0 1006.6 L897.0 1006.1 L898.0 1005.7 L899.0 1005.2 L900.0 1004.6 L901.0 1003.8 L902.0 1002.9 L903.0 1001.9 L904.0 1000.9 L905.0 1000.0 L906.0 999.2 L907.0 998.6 L908.0 997.9 L909.0 997.2 L910.0 996.4 L911.0 995.6 L912.0 994.8 L913.0 994.2 L914.0 993.6 L915.0 993.1 L916.0 992.5 L917.0 991.9 L918.0 991.3 L919.0 990.5 L920.0 989.7 L921.0 988.9 L922.0 988.2 L923.0 987.5 L924.0 986.9 L925.0 986.0 L926.0 985.0 L927.0 983.9 L928.0 983.0 L929.0 982.4 L930.0 982.1 L931.0 981.8 L932.0 981.4 L933.0 980.8 L934.0 980.0 L935.0 979.1 L936.0 978.3 L937.0 977.5 L938.0 976.9 L939.0 976.3 L940.0 975.7 L941.0 975.0 L942.0 974.3 L943.0 973.5 L944.0 972.7 L945.0 971.9 L946.0 971.0 L947.0 970.1 L948.0 969.2 L949.0 968.3 L950.0 967.3 L951.0 966.1 L952.0 964.9 L953.0 963.8 L954.0 962.9 L955.0 962.2 L956.0 961.4 L957.0 960.3 L958.0 959.0 L959.0 957.6 L960.0 956.3 L961.0 955.0 L962.0 953.8 L963.0 952.6 L964.0 951.4 L965.0 950.0 L966.0 948.6 L967.0 947.5 L968.0 946.5 L969.0 945.6 L970.0 944.7 L971.0 943.8 L972.0 943.0 L973.0 942.2 L974.0 941.4 L975.0 940.3 L976.0 939.2 L977.0 938.1 L978.0 937.0 L979.0 936.0 L980.0 934.8 L981.0 933.4 L982.0 931.9 L983.0 930.6 L984.0 929.7 L985.0 929.2 L986.0 928.9 L987.0 928.4 L988.0 927.6 L989.0 926.6 L990.0 925.5 L991.0 924.3 L992.0 922.9 L993.0 921.6 L994.0 920.4 L995.0 919.4 L996.0 918.4 L997.0 917.4 L998.0 916.2 L999.0 915.0 L1000.0 913.6 L1001.0 912.1 L1002.0 910.3 L1003.0 908.3 L1004.0 906.4 L1005.0 904.8 L1006.0 903.5 L1007.0 902.5 L1008.0 901.6 L1009.0 900.4 L1010.0 899.1 L1011.0 897.6 L1012.0 895.9 L1013.0 894.0 L1014.0 892.0 L1015.0 890.0 L1016.0 888.3 L1017.0 886.9 L1018.0 885.7 L1019.0 884.3 L1020.0 882.8 L1021.0 881.9 L1022.0 882.3 L1023.0 884.7 L1024.0 886.3 L1025.0 885.6 L1026.0 883.8 L1027.0 881.5 L1028.0 879.4 L1029.0 877.9 L1030.0 877.5 L1031.0 878.5 L1032.0 879.9 L1033.0 881.0 L1034.0 880.8 L1035.0 878.7 L1036.0 875.8 L1037.0 873.2 L1038.0 871.1 L1039.0 869.0 L1040.0 867.5 L1041.0 867.0 L1042.0 868.2 L1043.0 869.2 L1044.0 868.3 L1045.0 866.4 L1046.0 864.7 L1047.0 863.3 L1048.0 861.8 L1049.0 859.0 L1050.0 856.4 L1051.0 854.2 L1052.0 853.2 L1053.0 852.3 L1054.0 851.5 L1055.0 850.6 L1056.0 849.5 L1057.0 848.5 L1058.0 847.5 L1059.0 846.6 L1060.0 845.7 L1061.0 844.7 L1062.0 843.6 L1063.0 842.2 L1064.0 840.9 L1065.0 839.6 L1066.0 838.6 L1067.0 837.6 L1068.0 836.7 L1069.0 835.6 L1070.0 834.4 L1071.0 833.1 L1072.0 831.7 L1073.0 830.1 L1074.0 828.2 L1075.0 826.3 L1076.0 824.3 L1077.0 822.4 L1078.0 820.6 L1079.0 818.9 L1080.0 817.0 L1081.0 814.8 L1082.0 812.4 L1083.0 810.1 L1084.0 808.1 L1085.0 806.3 L1086.0 804.6 L1087.0 802.7 L1088.0 800.9 L1089.0 799.1 L1090.0 797.5 L1091.0 796.1 L1092.0 794.5 L1093.0 792.7 L1094.0 790.6 L1095.0 788.2 L1096.0 786.0 L1097.0 783.9 L1098.0 781.9 L1099.0 780.0 L1100.0 778.2 L1101.0 776.5 L1102.0 774.9 L1103.0 773.2 L1104.0 771.3 L1105.0 769.0 L1106.0 766.6 L1107.0 764.4 L1108.0 762.8 L1109.0 761.5 L1110.0 760.3 L1111.0 758.9 L1112.0 757.3 L1113.0 755.4 L1114.0 753.4 L1115.0 751.6 L1116.0 750.1 L1117.0 749.0 L1118.0 748.0 L1119.0 746.9 L1120.0 745.6 L1121.0 743.9 L1122.0 742.0 L1123.0 739.9 L1124.0 737.9 L1125.0 736.1 L1126.0 734.4 L1127.0 732.8 L1128.0 731.0 L1129.0 728.9 L1130.0 726.6 L1131.0 724.1 L1132.0 721.6 L1133.0 719.2 L1134.0 717.0 L1135.0 715.0 L1136.0 713.0 L1137.0 711.1 L1138.0 708.9 L1139.0 706.4 L1140.0 703.8 L1141.0 701.2 L1142.0 698.7 L1143.0 696.5 L1144.0 694.7 L1145.0 693.3 L1146.0 692.2 L1147.0 691.1 L1148.0 689.8 L1149.0 688.1 L1150.0 686.0 L1151.0 683.6 L1152.0 681.2 L1153.0 678.8 L1154.0 676.5 L1155.0 674.5 L1156.0 672.6 L1157.0 670.5 L1158.0 668.1 L1159.0 665.4 L1160.0 662.5 L1161.0 659.6 L1162.0 656.8 L1163.0 654.5 L1164.0 652.4 L1165.0 650.5 L1166.0 648.4 L1167.0 646.1 L1168.0 643.5 L1169.0 640.9 L1170.0 638.5 L1171.0 636.2 L1172.0 633.9 L1173.0 631.5 L1174.0 629.2 L1175.0 627.1 L1176.0 625.2 L1177.0 623.2 L1178.0 620.9 L1179.0 618.5 L1180.0 616.1 L1181.0 613.8 L1182.0 611.6 L1183.0 609.4 L1184.0 606.9 L1185.0 604.2 L1186.0 601.5 L1187.0 598.8 L1188.0 596.4 L1189.0 594.2 L1190.0 592.0 L1191.0 590.0 L1192.0 588.3 L1193.0 586.8 L1194.0 585.2 L1195.0 583.1 L1196.0 580.6 L1197.0 578.0 L1198.0 575.6 L1199.0 573.6 L1200.0 571.7 L1201.0 569.8 L1202.0 567.8 L1203.0 565.6 L1204.0 563.1 L1205.0 560.4 L1206.0 557.8 L1207.0 555.2 L1208.0 552.6 L1209.0 549.9 L1210.0 546.8 L1211.0 543.4 L1212.0 540.2 L1213.0 537.3 L1214.0 534.8 L1215.0 532.4 L1216.0 529.9 L1217.0 527.1 L1218.0 524.2 L1219.0 521.3 L1220.0 518.4 L1221.0 515.6 L1222.0 512.8 L1223.0 509.7 L1224.0 506.4 L1225.0 503.2 L1226.0 500.2 L1227.0 497.5 L1228.0 495.0 L1229.0 492.5 L1230.0 489.8 L1231.0 487.3 L1232.0 485.0 L1233.0 483.1 L1234.0 481.3 L1235.0 479.3 L1236.0 476.7 L1237.0 473.4 L1238.0 470.0 L1239.0 466.8 L1240.0 464.0 L1241.0 461.4 L1242.0 458.8 L1243.0 455.9 L1244.0 452.9 L1245.0 449.7 L1246.0 446.6 L1247.0 443.6 L1248.0 440.7 L1249.0 438.1 L1250.0 435.7 L1251.0 433.6 L1252.0 431.5 L1253.0 429.1 L1254.0 426.4 L1255.0 423.3 L1256.0 419.9 L1257.0 416.3 L1258.0 412.7 L1259.0 409.1 L1260.0 405.8 L1261.0 402.8 L1262.0 400.1 L1263.0 397.4 L1264.0 394.5 L1265.0 391.6 L1266.0 388.7 L1267.0 386.1 L1268.0 383.6 L1269.0 380.7 L1270.0 377.2 L1271.0 373.2 L1272.0 369.4 L1273.0 366.0 L1274.0 363.1 L1275.0 360.3 L1276.0 357.2 L1277.0 354.1 L1278.0 351.1 L1279.0 348.7 L1280.0 346.7 L1281.0 344.8 L1282.0 342.5 L1283.0 339.5 L1284.0 335.8 L1285.0 332.0 L1286.0 328.4 L1287.0 325.5 L1288.0 323.3 L1289.0 321.3 L1290.0 319.0 L1291.0 316.2 L1292.0 313.0 L1293.0 309.8 L1294.0 306.6 L1295.0 303.6 L1296.0 300.8 L1297.0 298.1 L1298.0 295.7 L1299.0 293.4 L1300.0 291.0 L1301.0 288.6 L1302.0 286.2 L1303.0 283.7 L1304.0 281.0 L1305.0 277.9 L1306.0 274.3 L1307.0 270.6 L1308.0 267.2 L1309.0 264.3 L1310.0 261.9 L1311.0 259.7 L1312.0 257.2 L1313.0 254.4 L1314.0 251.5 L1315.0 248.7 L1316.0 246.4 L1317.0 244.2 L1318.0 242.2 L1319.0 240.0 L1320.0 237.6 L1321.0 234.9 L1322.0 231.7 L1323.0 228.4 L1324.0 225.3 L1325.0 222.7 L1326.0 220.6 L1327.0 218.7 L1328.0 216.8 L1329.0 215.0 L1330.0 213.1 L1331.0 211.2 L1332.0 209.2 L1333.0 207.0 L1334.0 204.9 L1335.0 203.0 L1336.0 201.3 L1337.0 199.5 L1338.0 197.5 L1339.0 195.1 L1340.0 192.3 L1341.0 189.3 L1342.0 186.5 L1343.0 184.2 L1344.0 182.4 L1345.0 180.9 L1346.0 179.5 L1347.0 178.2 L1348.0 176.7 L1349.0 175.3 L1350.0 173.9 L1351.0 172.7 L1352.0 171.7 L1353.0 170.9 L1354.0 170.2 L1355.0 169.3 L1356.0 168.2 L1357.0 166.9 L1358.0 165.4 L1359.0 163.9 L1360.0 162.7 L1361.0 161.8 L1362.0 161.1 L1363.0 160.4 L1364.0 159.6 L1365.0 158.8 L1366.0 158.2 L1367.0 157.8 L1368.0 157.6 L1369.0 157.4 L1370.0 157.1 L1371.0 156.9 L1372.0 156.8 L1373.0 156.8 L1374.0 156.8 L1375.0 157.0 L1376.0 157.3 L1377.0 157.7 L1378.0 158.1 L1379.0 158.4 L1380.0 158.7 L1381.0 159.1 L1382.0 159.5 L1383.0 160.0 L1384.0 160.6 L1385.0 161.4 L1386.0 162.3 L1387.0 163.3 L1388.0 164.3 L1389.0 165.1 L1390.0 165.8 L1391.0 166.5 L1392.0 167.2 L1393.0 168.0 L1394.0 168.8 L1395.0 169.6 L1396.0 170.5 L1397.0 171.3 L1398.0 172.1 L1399.0 172.9 L1400.0 173.7 L1401.0 174.7 L1402.0 175.9 L1403.0 177.3 L1404.0 179.1 L1405.0 181.3 L1406.0 183.9 L1407.0 186.9 L1408.0 189.8 L1409.0 192.4 L1410.0 194.6 L1411.0 196.9 L1412.0 199.5 L1413.0 202.4 L1414.0 205.3 L1415.0 207.9 L1416.0 210.2 L1417.0 212.3 L1418.0 214.5 L1419.0 216.8 L1420.0 219.1 L1421.0 221.5 L1422.0 223.9 L1423.0 226.4 L1424.0 229.2 L1425.0 232.8 L1426.0 237.0 L1427.0 241.6 L1428.0 245.6 L1429.0 248.8 L1430.0 251.2 L1431.0 253.5 L1432.0 256.1 L1433.0 259.3 L1434.0 263.1 L1435.0 267.6 L1436.0 272.4 L1437.0 276.9 L1438.0 280.9 L1439.0 284.3 L1440.0 287.6 L1441.0 291.4 L1442.0 295.9 L1443.0 301.0 L1444.0 306.2 L1445.0 310.9 L1446.0 315.3 L1447.0 319.5 L1448.0 324.0 L1449.0 329.1 L1450.0 334.9 L1451.0 340.8 L1452.0 346.4 L1453.0 351.7 L1454.0 356.7 L1455.0 361.6 L1456.0 366.2 L1457.0 370.6 L1458.0 375.3 L1459.0 380.3 L1460.0 385.6 L1461.0 390.8 L1462.0 396.0 L1463.0 401.1 L1464.0 405.9 L1465.0 410.2 L1466.0 414.1 L1467.0 418.0 L1468.0 421.9 L1469.0 425.5 L1470.0 428.8 L1471.0 431.9 L1472.0 435.0 L1473.0 438.3 L1474.0 442.0 L1475.0 446.4 L1476.0 451.3 L1477.0 456.7 L1478.0 462.3 L1479.0 467.7 L1480.0 472.6 L1481.0 477.2 L1482.0 481.8 L1483.0 486.9 L1484.0 492.6 L1485.0 498.7 L1486.0 504.5 L1487.0 509.6 L1488.0 514.0 L1489.0 518.2 L1490.0 522.7 L1491.0 527.4 L1492.0 532.3 L1493.0 537.3 L1494.0 542.9 L1495.0 549.1 L1496.0 555.6 L1497.0 562.0 L1498.0 568.4 L1499.0 575.1 L1500.0 582.2 L1501.0 589.1 L1502.0 595.4 L1503.0 601.5 L1504.0 607.9 L1505.0 614.8 L1506.0 622.0 L1507.0 629.0 L1508.0 635.8 L1509.0 642.6 L1510.0 649.4 L1511.0 656.2 L1512.0 663.0 L1513.0 669.4 L1514.0 675.3 L1515.0 680.6 L1516.0 685.0 L1517.0 689.0 L1518.0 692.9 L1519.0 697.2 L1520.0 702.2 L1521.0 707.9 L1522.0 714.1 L1523.0 720.6 L1524.0 727.1 L1525.0 733.4 L1526.0 739.4 L1527.0 745.1 L1528.0 750.5 L1529.0 755.6 L1530.0 760.6 L1531.0 765.8 L1532.0 771.1 L1533.0 776.2 L1534.0 780.7 L1535.0 784.9 L1536.0 789.3 L1537.0 794.2 L1538.0 799.6 L1539.0 805.1 L1540.0 810.2 L1541.0 814.8 L1542.0 819.2 L1543.0 823.4 L1544.0 827.7 L1545.0 832.3 L1546.0 837.2 L1547.0 842.4 L1548.0 847.9 L1549.0 853.5 L1550.0 859.3 L1551.0 865.1 L1552.0 870.8 L1553.0 876.0 L1554.0 880.8 L1555.0 885.2 L1556.0 889.2 L1557.0 893.3 L1558.0 897.4 L1559.0 901.6 L1560.0 905.5 L1561.0 908.8 L1562.0 911.6 L1563.0 914.4 L1564.0 917.5 L1565.0 921.2 L1566.0 925.2 L1567.0 929.3 L1568.0 933.1 L1569.0 936.7 L1570.0 940.0 L1571.0 943.0 L1572.0 945.6 L1573.0 947.8 L1574.0 950.0 L1575.0 952.4 L1576.0 955.2 L1577.0 958.1 L1578.0 960.8 L1579.0 963.1 L1580.0 965.1 L1581.0 967.2 L1582.0 969.7 L1583.0 972.5 L1584.0 975.3 L1585.0 978.1 L1586.0 980.6 L1587.0 983.0 L1588.0 985.2 L1589.0 987.2 L1590.0 989.1 L1591.0 990.8 L1592.0 992.6 L1593.0 994.6 L1594.0 996.7 L1595.0 999.2 L1596.0 1001.6 L1597.0 1004.0 L1598.0 1006.3 L1599.0 1008.4 L1600.0 1010.2 L1601.0 1011.8 L1602.0 1013.2 L1603.0 1014.7 L1604.0 1016.4 L1605.0 1018.3 L1606.0 1020.0 L1607.0 1021.5 L1608.0 1022.8 L1609.0 1024.0 L1610.0 1025.3 L1611.0 1026.6 L1612.0 1028.0 L1613.0 1029.6 L1614.0 1031.2 L1615.0 1032.8 L1616.0 1034.6 L1617.0 1036.4 L1618.0 1038.0 L1619.0 1039.3 L1620.0 1040.6 L1621.0 1041.8 L1622.0 1043.0 L1623.0 1044.0 L1624.0 1044.8 L1625.0 1045.1 L1626.0 1045.2 L1627.0 1045.4 L1628.0 1045.9 L1629.0 1047.0 L1630.0 1048.4 L1631.0 1050.0 L1632.0 1051.5 L1633.0 1052.8 L1634.0 1054.0 L1635.0 1055.0 L1636.0 1055.9 L1637.0 1056.7 L1638.0 1057.3 L1639.0 1057.8 L1640.0 1058.4 L1641.0 1059.0 L1642.0 1059.7 L1643.0 1060.5 L1644.0 1061.4 L1645.0 1062.3 L1646.0 1063.1 L1647.0 1063.7 L1648.0 1064.1 L1649.0 1064.5 L1650.0 1065.1 L1651.0 1065.7 L1652.0 1066.4 L1653.0 1067.0 L1654.0 1067.4 L1655.0 1067.8 L1656.0 1068.2 L1657.0 1068.5 L1658.0 1068.9 L1659.0 1069.3 L1660.0 1069.7 L1661.0 1070.1 L1662.0 1070.4 L1663.0 1070.7 L1664.0 1070.8 L1665.0 1070.7 L1666.0 1070.6 L1667.0 1070.5 L1668.0 1070.7 L1669.0 1071.1 L1670.0 1071.7 L1671.0 1072.4 L1672.0 1073.0 L1673.0 1073.4 L1674.0 1073.8 L1675.0 1074.1 L1676.0 1074.4 L1677.0 1074.7 L1678.0 1074.9 L1679.0 1075.0 L1680.0 1074.9 L1681.0 1074.9 L1682.0 1075.0 L1683.0 1075.3 L1684.0 1075.6 L1685.0 1075.9 L1686.0 1076.1 L1687.0 1076.2 L1688.0 1076.3 L1689.0 1076.4 L1690.0 1076.4 L1691.0 1076.3 L1692.0 1076.3 L1693.0 1076.2 L1694.0 1076.2 L1695.0 1076.2 L1696.0 1076.3 L1697.0 1076.6 L1698.0 1076.9 L1699.0 1077.1 L1700.0 1077.4 L1701.0 1077.6 L1702.0 1077.7 L1703.0 1077.9 L1704.0 1078.1 L1705.0 1078.4 L1706.0 1078.1 L1706.0 1078.0"/>
<path class="c" stroke="#000000" stroke-width="2.3" d="M94.0 1052.2 L96.0 1052.2 L98.0 1052.2 L100.0 1052.2 L102.0 1052.2 L104.0 1052.2 L106.0 1052.2 L108.0 1052.2 L110.0 1052.2 L112.0 1052.2 L114.0 1052.1 L116.0 1052.1 L118.0 1052.1 L120.0 1052.1 L122.0 1052.1 L124.0 1052.1 L126.0 1052.1 L128.0 1052.1 L130.0 1052.1 L132.0 1052.1 L134.0 1052.1 L136.0 1052.1 L138.0 1052.1 L140.0 1052.1 L142.0 1052.1 L144.0 1052.1 L146.0 1052.1 L148.0 1052.1 L150.0 1052.1 L152.0 1052.1 L154.0 1052.0 L156.0 1052.0 L158.0 1052.0 L160.0 1052.0 L162.0 1052.0 L164.0 1052.0 L166.0 1052.0 L168.0 1052.0 L170.0 1052.0 L172.0 1052.0 L174.0 1052.0 L176.0 1052.0 L178.0 1052.0 L180.0 1052.0 L182.0 1052.0 L184.0 1052.0 L186.0 1052.0 L188.0 1052.0 L190.0 1052.0 L192.0 1052.0 L194.0 1052.0 L196.0 1052.0 L198.0 1052.0 L200.0 1052.0 L202.0 1052.0 L204.0 1052.0 L206.0 1052.0 L208.0 1052.0 L210.0 1052.0 L212.0 1052.0 L214.0 1052.0 L216.0 1052.0 L218.0 1052.0 L220.0 1052.0 L222.0 1052.0 L224.0 1052.0 L226.0 1052.0 L228.0 1052.0 L230.0 1052.0 L232.0 1052.0 L234.0 1052.0 L236.0 1052.0 L238.0 1052.0 L240.0 1052.0 L242.0 1052.0 L244.0 1052.0 L246.0 1052.0 L248.0 1052.0 L250.0 1052.0 L252.0 1052.0 L254.0 1052.0 L256.0 1052.0 L258.0 1052.0 L260.0 1052.0 L262.0 1052.0 L264.0 1052.0 L266.0 1052.0 L268.0 1052.0 L270.0 1052.0 L272.0 1052.0 L274.0 1052.0 L276.0 1052.0 L278.0 1052.0 L280.0 1052.0 L282.0 1052.0 L284.0 1052.0 L286.0 1052.0 L288.0 1052.0 L290.0 1052.0 L292.0 1052.0 L294.0 1052.0 L296.0 1052.0 L298.0 1052.0 L300.0 1052.0 L302.0 1052.0 L304.0 1052.0 L306.0 1052.0 L308.0 1052.0 L310.0 1052.0 L312.0 1052.0 L314.0 1052.0 L316.0 1052.0 L318.0 1052.0 L320.0 1052.0 L322.0 1052.0 L324.0 1052.0 L326.0 1052.0 L328.0 1052.0 L330.0 1052.0 L332.0 1052.0 L334.0 1052.0 L336.0 1052.0 L338.0 1052.0 L340.0 1052.0 L342.0 1052.0 L344.0 1052.0 L346.0 1052.0 L348.0 1052.0 L350.0 1052.0 L352.0 1052.0 L354.0 1052.0 L356.0 1052.0 L358.0 1052.0 L360.0 1052.0 L362.0 1052.0 L364.0 1052.0 L366.0 1052.0 L368.0 1051.9 L370.0 1051.9 L372.0 1051.9 L374.0 1051.9 L376.0 1051.9 L378.0 1051.9 L380.0 1051.9 L382.0 1051.9 L384.0 1051.9 L386.0 1051.9 L388.0 1051.9 L390.0 1051.8 L392.0 1051.8 L394.0 1051.8 L396.0 1051.8 L398.0 1051.8 L400.0 1051.8 L402.0 1051.8 L404.0 1051.7 L406.0 1051.7 L408.0 1051.7 L410.0 1051.7 L412.0 1051.7 L414.0 1051.7 L416.0 1051.6 L418.0 1051.6 L420.0 1051.6 L422.0 1051.6 L424.0 1051.6 L426.0 1051.5 L428.0 1051.5 L430.0 1051.5 L432.0 1051.5 L434.0 1051.5 L436.0 1051.4 L438.0 1051.4 L440.0 1051.4 L442.0 1051.4 L444.0 1051.3 L446.0 1051.3 L448.0 1051.3 L450.0 1051.3 L452.0 1051.3 L454.0 1051.2 L456.0 1051.2 L458.0 1051.2 L460.0 1051.1 L462.0 1051.1 L464.0 1051.1 L466.0 1051.1 L468.0 1051.0 L470.0 1051.0 L472.0 1051.0 L474.0 1050.9 L476.0 1050.9 L478.0 1050.9 L480.0 1050.9 L482.0 1050.8 L484.0 1050.8 L486.0 1050.8 L488.0 1050.7 L490.0 1050.7 L492.0 1050.7 L494.0 1050.6 L496.0 1050.6 L498.0 1050.5 L500.0 1050.5 L502.0 1050.4 L504.0 1050.3 L506.0 1050.3 L508.0 1050.2 L510.0 1050.1 L512.0 1050.0 L514.0 1049.9 L516.0 1049.8 L518.0 1049.7 L520.0 1049.6 L522.0 1049.5 L524.0 1049.4 L526.0 1049.3 L528.0 1049.2 L530.0 1049.1 L532.0 1048.9 L534.0 1048.8 L536.0 1048.7 L538.0 1048.6 L540.0 1048.4 L542.0 1048.3 L544.0 1048.2 L546.0 1048.0 L548.0 1047.9 L550.0 1047.7 L552.0 1047.6 L554.0 1047.5 L556.0 1047.3 L558.0 1047.2 L560.0 1047.1 L562.0 1046.9 L564.0 1046.8 L566.0 1046.6 L568.0 1046.5 L570.0 1046.3 L572.0 1046.2 L574.0 1046.0 L576.0 1045.8 L578.0 1045.6 L580.0 1045.4 L582.0 1045.2 L584.0 1045.0 L586.0 1044.8 L588.0 1044.6 L590.0 1044.4 L592.0 1044.2 L594.0 1044.0 L596.0 1043.8 L598.0 1043.6 L600.0 1043.4 L602.0 1043.1 L604.0 1042.9 L606.0 1042.7 L608.0 1042.5 L610.0 1042.3 L612.0 1042.1 L614.0 1041.9 L616.0 1041.7 L618.0 1041.5 L620.0 1041.3 L622.0 1041.1 L624.0 1041.0 L626.0 1040.8 L628.0 1040.6 L630.0 1040.5 L632.0 1040.3 L634.0 1040.1 L636.0 1039.9 L638.0 1039.7 L640.0 1039.5 L642.0 1039.2 L644.0 1038.9 L646.0 1038.6 L648.0 1038.3 L650.0 1038.0 L652.0 1037.6 L654.0 1037.2 L656.0 1036.8 L658.0 1036.4 L660.0 1036.0 L662.0 1035.6 L664.0 1035.2 L666.0 1034.8 L668.0 1034.3 L670.0 1033.9 L672.0 1033.5 L674.0 1033.1 L676.0 1032.7 L678.0 1032.2 L680.0 1031.8 L682.0 1031.4 L684.0 1030.9 L686.0 1030.5 L688.0 1030.0 L690.0 1029.6 L692.0 1029.1 L694.0 1028.7 L696.0 1028.2 L698.0 1027.7 L700.0 1027.2 L702.0 1026.8 L704.0 1026.3 L706.0 1025.8 L708.0 1025.3 L710.0 1024.8 L712.0 1024.3 L714.0 1023.8 L716.0 1023.3 L718.0 1022.8 L720.0 1022.3 L722.0 1021.8 L724.0 1021.3 L726.0 1020.8 L728.0 1020.3 L730.0 1019.8 L732.0 1019.3 L734.0 1018.8 L736.0 1018.2 L738.0 1017.7 L740.0 1017.2 L742.0 1016.6 L744.0 1016.1 L746.0 1015.5 L748.0 1015.0 L750.0 1014.4 L752.0 1013.8 L754.0 1013.2 L756.0 1012.6 L758.0 1011.9 L760.0 1011.3 L762.0 1010.6 L764.0 1009.9 L766.0 1009.1 L768.0 1008.4 L770.0 1007.6 L772.0 1006.8 L774.0 1005.9 L776.0 1005.1 L778.0 1004.3 L780.0 1003.4 L782.0 1002.6 L784.0 1001.7 L786.0 1000.9 L788.0 1000.0 L790.0 999.2 L792.0 998.4 L794.0 997.5 L796.0 996.7 L798.0 995.8 L800.0 994.9 L802.0 994.1 L804.0 993.2 L806.0 992.3 L808.0 991.3 L810.0 990.4 L812.0 989.4 L814.0 988.4 L816.0 987.4 L818.0 986.4 L820.0 985.4 L822.0 984.3 L824.0 983.2 L826.0 982.1 L828.0 981.0 L830.0 979.9 L832.0 978.7 L834.0 977.6 L836.0 976.5 L838.0 975.3 L840.0 974.2 L842.0 973.0 L844.0 971.9 L846.0 970.7 L848.0 969.6 L850.0 968.4 L852.0 967.2 L854.0 966.0 L856.0 964.7 L858.0 963.5 L860.0 962.2 L862.0 961.0 L864.0 959.7 L866.0 958.4 L868.0 957.0 L870.0 955.7 L872.0 954.3 L874.0 952.9 L876.0 951.5 L878.0 950.1 L880.0 948.7 L882.0 947.2 L884.0 945.8 L886.0 944.3 L888.0 942.8 L890.0 941.3 L892.0 939.8 L894.0 938.3 L896.0 936.8 L898.0 935.3 L900.0 933.7 L902.0 932.1 L904.0 930.5 L906.0 929.0 L908.0 927.4 L910.0 925.8 L912.0 924.2 L914.0 922.6 L916.0 921.0 L918.0 919.5 L920.0 917.9 L922.0 916.4 L924.0 914.8 L926.0 913.3 L928.0 911.7 L930.0 910.1 L932.0 908.5 L934.0 906.8 L936.0 905.2 L938.0 903.4 L940.0 901.7 L942.0 899.9 L944.0 898.0 L946.0 896.1 L948.0 894.1 L950.0 892.1 L952.0 890.1 L954.0 888.1 L956.0 886.0 L958.0 883.9 L960.0 881.8 L962.0 879.7 L964.0 877.6 L966.0 875.5 L968.0 873.4 L970.0 871.3 L972.0 869.2 L974.0 867.2 L976.0 865.1 L978.0 862.9 L980.0 860.8 L982.0 858.7 L984.0 856.6 L986.0 854.4 L988.0 852.3 L990.0 850.1 L992.0 847.9 L994.0 845.8 L996.0 843.6 L998.0 841.4 L1000.0 839.1 L1002.0 836.9 L1004.0 834.7 L1006.0 832.4 L1008.0 830.1 L1010.0 827.8 L1012.0 825.5 L1014.0 823.2 L1016.0 820.9 L1018.0 818.6 L1020.0 816.2 L1022.0 813.9 L1024.0 811.5 L1026.0 809.1 L1028.0 806.7 L1030.0 804.3 L1032.0 801.9 L1034.0 799.5 L1036.0 797.1 L1038.0 794.6 L1040.0 792.1 L1042.0 789.6 L1044.0 787.1 L1046.0 784.6 L1048.0 782.1 L1050.0 779.5 L1052.0 776.9 L1054.0 774.4 L1056.0 771.8 L1058.0 769.3 L1060.0 766.7 L1062.0 764.2 L1064.0 761.6 L1066.0 759.1 L1068.0 756.7 L1070.0 754.2 L1072.0 751.8 L1074.0 749.3 L1076.0 746.7 L1078.0 744.1 L1080.0 741.3 L1082.0 738.5 L1084.0 735.5 L1086.0 732.4 L1088.0 729.2 L1090.0 726.0 L1092.0 722.8 L1094.0 719.6 L1096.0 716.4 L1098.0 713.3 L1100.0 710.1 L1102.0 706.9 L1104.0 703.7 L1106.0 700.5 L1108.0 697.4 L1110.0 694.3 L1112.0 691.2 L1114.0 688.3 L1116.0 685.4 L1118.0 682.5 L1120.0 679.6 L1122.0 676.6 L1124.0 673.3 L1126.0 670.0 L1128.0 666.4 L1130.0 662.8 L1132.0 659.1 L1134.0 655.4 L1136.0 651.7 L1138.0 648.0 L1140.0 644.3 L1142.0 640.6 L1144.0 636.9 L1146.0 633.1 L1148.0 629.4 L1150.0 625.6 L1152.0 621.8 L1154.0 618.0 L1156.0 614.2 L1158.0 610.4 L1160.0 606.5 L1162.0 602.6 L1164.0 598.8 L1166.0 595.0 L1168.0 591.3 L1170.0 587.5 L1172.0 583.7 L1174.0 579.9 L1176.0 576.0 L1178.0 572.0 L1180.0 567.9 L1182.0 563.6 L1184.0 559.2 L1186.0 554.5 L1188.0 549.4 L1190.0 544.0 L1192.0 538.4 L1194.0 532.8 L1196.0 527.5 L1198.0 522.5 L1200.0 517.5 L1202.0 512.7 L1204.0 507.9 L1206.0 503.0 L1208.0 498.0 L1210.0 493.0 L1212.0 488.1 L1214.0 483.1 L1216.0 478.1 L1218.0 473.2 L1220.0 468.2 L1222.0 463.2 L1224.0 458.1 L1226.0 453.0 L1228.0 447.8 L1230.0 442.5 L1232.0 437.1 L1234.0 431.7 L1236.0 426.1 L1238.0 420.4 L1240.0 414.4 L1242.0 408.3 L1244.0 402.1 L1246.0 395.7 L1248.0 389.3 L1250.0 382.9 L1252.0 376.6 L1254.0 370.3 L1256.0 364.1 L1258.0 358.0 L1260.0 352.1 L1262.0 346.2 L1264.0 340.4 L1266.0 334.6 L1268.0 328.9 L1270.0 323.1 L1272.0 317.4 L1274.0 311.6 L1276.0 305.7 L1278.0 299.8 L1280.0 293.8 L1282.0 287.7 L1284.0 281.4 L1286.0 275.0 L1288.0 268.5 L1290.0 262.0 L1292.0 255.4 L1294.0 248.8 L1296.0 242.5 L1298.0 236.7 L1300.0 231.3 L1302.0 225.9 L1304.0 220.2 L1306.0 214.1 L1308.0 207.9 L1310.0 201.8 L1312.0 195.8 L1314.0 189.9 L1316.0 184.1 L1318.0 178.3 L1320.0 172.6 L1322.0 167.4 L1324.0 162.6 L1326.0 158.0 L1328.0 153.4 L1330.0 148.7 L1332.0 144.1 L1334.0 139.6 L1336.0 135.1 L1338.0 130.7 L1340.0 126.4 L1342.0 122.6 L1344.0 119.3 L1346.0 116.3 L1348.0 113.4 L1350.0 110.4 L1352.0 107.3 L1354.0 104.4 L1356.0 102.1 L1358.0 100.3 L1360.0 98.7 L1362.0 97.4 L1364.0 96.3 L1366.0 95.3 L1368.0 94.5 L1370.0 93.8 L1372.0 93.5 L1374.0 93.3 L1376.0 93.4 L1378.0 93.8 L1380.0 94.3 L1382.0 95.0 L1384.0 95.9 L1386.0 97.1 L1388.0 98.6 L1390.0 100.5 L1392.0 102.9 L1394.0 105.7 L1396.0 108.7 L1398.0 112.0 L1400.0 115.7 L1402.0 119.8 L1404.0 124.1 L1406.0 128.7 L1408.0 133.7 L1410.0 138.9 L1412.0 144.1 L1414.0 149.3 L1416.0 154.6 L1418.0 160.0 L1420.0 165.8 L1422.0 172.3 L1424.0 179.5 L1426.0 187.5 L1428.0 196.1 L1430.0 204.4 L1432.0 212.0 L1434.0 219.0 L1436.0 226.1 L1438.0 233.1 L1440.0 240.2 L1442.0 247.5 L1444.0 255.0 L1446.0 262.9 L1448.0 271.1 L1450.0 279.7 L1452.0 288.9 L1454.0 299.1 L1456.0 310.1 L1458.0 321.4 L1460.0 332.4 L1462.0 343.5 L1464.0 354.6 L1466.0 365.5 L1468.0 376.3 L1470.0 387.2 L1472.0 398.4 L1474.0 409.9 L1476.0 421.4 L1478.0 432.6 L1480.0 443.6 L1482.0 454.4 L1484.0 464.8 L1486.0 474.7 L1488.0 484.4 L1490.0 494.5 L1492.0 505.2 L1494.0 516.2 L1496.0 527.1 L1498.0 537.7 L1500.0 548.2 L1502.0 558.7 L1504.0 569.7 L1506.0 581.2 L1508.0 592.7 L1510.0 604.2 L1512.0 615.6 L1514.0 627.1 L1516.0 638.6 L1518.0 650.4 L1520.0 661.7 L1522.0 671.9 L1524.0 681.1 L1526.0 689.9 L1528.0 698.5 L1530.0 707.3 L1532.0 716.0 L1534.0 724.5 L1536.0 732.9 L1538.0 741.1 L1540.0 749.1 L1542.0 757.0 L1544.0 764.8 L1546.0 772.8 L1548.0 780.9 L1550.0 788.9 L1552.0 796.9 L1554.0 804.6 L1556.0 812.1 L1558.0 819.5 L1560.0 826.7 L1562.0 833.9 L1564.0 841.0 L1566.0 848.2 L1568.0 855.2 L1570.0 862.2 L1572.0 868.9 L1574.0 875.2 L1576.0 881.4 L1578.0 887.4 L1580.0 893.2 L1582.0 898.8 L1584.0 904.2 L1586.0 909.3 L1588.0 914.1 L1590.0 918.8 L1592.0 923.6 L1594.0 928.4 L1596.0 933.2 L1598.0 937.7 L1600.0 941.9 L1602.0 945.8 L1604.0 949.4 L1606.0 952.9 L1608.0 956.3 L1610.0 959.7 L1612.0 963.1 L1614.0 966.7 L1616.0 970.2 L1618.0 973.6 L1620.0 976.9 L1622.0 980.1 L1624.0 983.1 L1626.0 985.9 L1628.0 988.5 L1630.0 991.1 L1632.0 993.6 L1634.0 995.9 L1636.0 998.2 L1638.0 1000.5 L1640.0 1002.6 L1642.0 1004.7 L1644.0 1006.8 L1646.0 1008.8 L1648.0 1010.7 L1650.0 1012.5 L1652.0 1014.3 L1654.0 1015.9 L1656.0 1017.5 L1658.0 1019.0 L1660.0 1020.3 L1662.0 1021.6 L1664.0 1022.8 L1666.0 1023.8 L1668.0 1024.8 L1670.0 1025.8 L1672.0 1026.8 L1674.0 1027.8 L1676.0 1028.8 L1678.0 1029.8 L1680.0 1030.8 L1682.0 1031.8 L1684.0 1032.7 L1686.0 1033.5 L1688.0 1034.4 L1690.0 1035.2 L1692.0 1036.0 L1694.0 1036.7 L1694.5 1036.9"/>
</g>
<g fill="#000" shape-rendering="crispEdges">
<rect x="45" y="27" width="1666" height="5"/>
<rect x="43" y="29" width="5" height="1147"/>
<rect x="43" y="1171" width="1666" height="5"/>
<rect x="1706" y="27" width="5" height="1147"/>
<rect x="106" y="32" width="5" height="17"/>
<rect x="106" y="1154" width="5" height="17"/>
<rect x="243" y="32" width="5" height="7"/>
<rect x="243" y="1164" width="5" height="7"/>
<rect x="379" y="32" width="5" height="17"/>
<rect x="379" y="1154" width="5" height="17"/>
<rect x="516" y="32" width="5" height="7"/>
<rect x="516" y="1164" width="5" height="7"/>
<rect x="652" y="32" width="5" height="17"/>
<rect x="652" y="1154" width="5" height="17"/>
<rect x="789" y="32" width="5" height="7"/>
<rect x="789" y="1164" width="5" height="7"/>
<rect x="926" y="32" width="5" height="17"/>
<rect x="926" y="1154" width="5" height="17"/>
<rect x="1062" y="32" width="5" height="7"/>
<rect x="1062" y="1164" width="5" height="7"/>
<rect x="1199" y="32" width="5" height="17"/>
<rect x="1199" y="1154" width="5" height="17"/>
<rect x="1335" y="32" width="5" height="7"/>
<rect x="1335" y="1164" width="5" height="7"/>
<rect x="1472" y="32" width="5" height="17"/>
<rect x="1472" y="1154" width="5" height="17"/>
<rect x="1609" y="32" width="5" height="7"/>
<rect x="1609" y="1164" width="5" height="7"/>
</g>
<g shape-rendering="crispEdges">
<rect x="134" y="124" width="158" height="5" fill="#ff0000"/>
<rect x="134" y="228" width="158" height="5" fill="#0000ff"/>
<rect x="134" y="315" width="158" height="5" fill="#008000"/>
<rect x="134" y="401" width="158" height="5" fill="#ff8000"/>
</g>
<g font-size="70">
<text transform="translate(310 150) scale(1.01 1.04)">A<tspan font-size="47" dy="19.9">init</tspan></text>
<text transform="translate(310 254.7) scale(1.01 1.04)">A1</text>
<text transform="translate(310 340.8) scale(1.01 1.04)">A2</text>
<text transform="translate(310 427.5) scale(1.003 1.04)">A1 + toluene</text>
</g>
<g>
<text transform="translate(107.5 1250.2) scale(1 1.04)" text-anchor="middle" font-size="70">3344</text>
<text transform="translate(380.7 1250.2) scale(1 1.04)" text-anchor="middle" font-size="70">3346</text>
<text transform="translate(653.9 1250.2) scale(1 1.04)" text-anchor="middle" font-size="70">3348</text>
<text transform="translate(927.1 1250.2) scale(1 1.04)" text-anchor="middle" font-size="70">3350</text>
<text transform="translate(1200.3 1250.2) scale(1 1.04)" text-anchor="middle" font-size="70">3352</text>
<text transform="translate(1473.5 1250.2) scale(1 1.04)" text-anchor="middle" font-size="70">3354</text>
</g>
<text transform="translate(901 1354.7) scale(1.008 1.04)" text-anchor="middle" font-size="83.3">B (mT)</text>
</svg>
</body>
</html>
